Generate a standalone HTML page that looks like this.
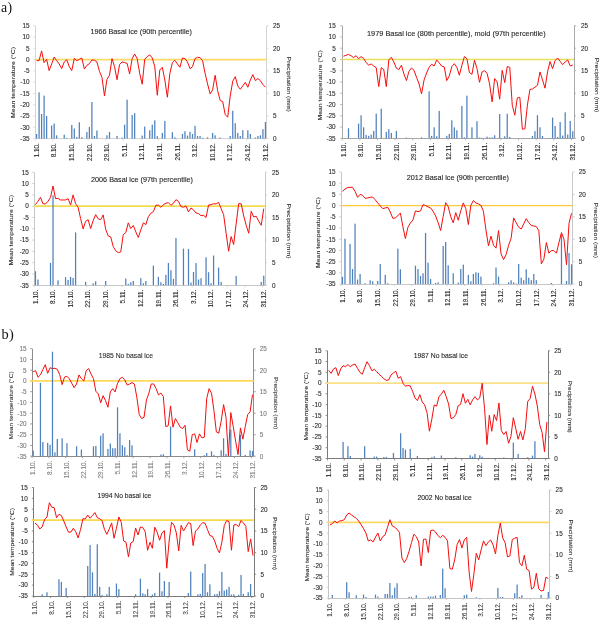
<!DOCTYPE html><html><head><meta charset="utf-8"><style>html,body{margin:0;padding:0;background:#fff;}svg{display:block;will-change:transform;filter:blur(0.3px);}</style></head><body>
<svg width="601" height="620" viewBox="0 0 601 620" font-family='"Liberation Sans", sans-serif'>
<rect width="601" height="620" fill="#fff"/>
<text x="1" y="11.6" font-family="'Liberation Serif', serif" font-size="13.8" letter-spacing="0.4" fill="#111">a)</text>
<text x="1.4" y="338.7" font-family="'Liberation Serif', serif" font-size="14.4" letter-spacing="0.3" fill="#111">b)</text>
<line x1="35.5" y1="25.7" x2="35.5" y2="138.5" stroke="#d4d4d4" stroke-width="1"/>
<line x1="266.5" y1="25.7" x2="266.5" y2="138.5" stroke="#d4d4d4" stroke-width="1"/>
<line x1="35.5" y1="138.5" x2="266.5" y2="138.5" stroke="#d4d4d4" stroke-width="1"/>
<line x1="33.3" y1="25.7" x2="35.3" y2="25.7" stroke="#d4d4d4" stroke-width="0.8"/>
<text x="29.5" y="28" text-anchor="end" font-size="6.4" fill="#2a2a2a" stroke="#2a2a2a" stroke-width="0.1">15</text>
<line x1="33.3" y1="36.99" x2="35.3" y2="36.99" stroke="#d4d4d4" stroke-width="0.8"/>
<text x="29.5" y="39.29" text-anchor="end" font-size="6.4" fill="#2a2a2a" stroke="#2a2a2a" stroke-width="0.1">10</text>
<line x1="33.3" y1="48.28" x2="35.3" y2="48.28" stroke="#d4d4d4" stroke-width="0.8"/>
<text x="29.5" y="50.58" text-anchor="end" font-size="6.4" fill="#2a2a2a" stroke="#2a2a2a" stroke-width="0.1">5</text>
<line x1="33.3" y1="59.57" x2="35.3" y2="59.57" stroke="#d4d4d4" stroke-width="0.8"/>
<text x="29.5" y="61.87" text-anchor="end" font-size="6.4" fill="#2a2a2a" stroke="#2a2a2a" stroke-width="0.1">0</text>
<line x1="33.3" y1="70.86" x2="35.3" y2="70.86" stroke="#d4d4d4" stroke-width="0.8"/>
<text x="29.5" y="73.16" text-anchor="end" font-size="6.4" fill="#2a2a2a" stroke="#2a2a2a" stroke-width="0.1">-5</text>
<line x1="33.3" y1="82.15" x2="35.3" y2="82.15" stroke="#d4d4d4" stroke-width="0.8"/>
<text x="29.5" y="84.45" text-anchor="end" font-size="6.4" fill="#2a2a2a" stroke="#2a2a2a" stroke-width="0.1">-10</text>
<line x1="33.3" y1="93.44" x2="35.3" y2="93.44" stroke="#d4d4d4" stroke-width="0.8"/>
<text x="29.5" y="95.74" text-anchor="end" font-size="6.4" fill="#2a2a2a" stroke="#2a2a2a" stroke-width="0.1">-15</text>
<line x1="33.3" y1="104.73" x2="35.3" y2="104.73" stroke="#d4d4d4" stroke-width="0.8"/>
<text x="29.5" y="107.03" text-anchor="end" font-size="6.4" fill="#2a2a2a" stroke="#2a2a2a" stroke-width="0.1">-20</text>
<line x1="33.3" y1="116.02" x2="35.3" y2="116.02" stroke="#d4d4d4" stroke-width="0.8"/>
<text x="29.5" y="118.32" text-anchor="end" font-size="6.4" fill="#2a2a2a" stroke="#2a2a2a" stroke-width="0.1">-25</text>
<line x1="33.3" y1="127.31" x2="35.3" y2="127.31" stroke="#d4d4d4" stroke-width="0.8"/>
<text x="29.5" y="129.61" text-anchor="end" font-size="6.4" fill="#2a2a2a" stroke="#2a2a2a" stroke-width="0.1">-30</text>
<line x1="33.3" y1="138.6" x2="35.3" y2="138.6" stroke="#d4d4d4" stroke-width="0.8"/>
<text x="29.5" y="140.9" text-anchor="end" font-size="6.4" fill="#2a2a2a" stroke="#2a2a2a" stroke-width="0.1">-35</text>
<line x1="266.7" y1="25.7" x2="268.7" y2="25.7" stroke="#d4d4d4" stroke-width="0.8"/>
<text x="273" y="28" font-size="6.4" fill="#2a2a2a" stroke="#2a2a2a" stroke-width="0.1">25</text>
<line x1="266.7" y1="48.28" x2="268.7" y2="48.28" stroke="#d4d4d4" stroke-width="0.8"/>
<text x="273" y="50.58" font-size="6.4" fill="#2a2a2a" stroke="#2a2a2a" stroke-width="0.1">20</text>
<line x1="266.7" y1="70.86" x2="268.7" y2="70.86" stroke="#d4d4d4" stroke-width="0.8"/>
<text x="273" y="73.16" font-size="6.4" fill="#2a2a2a" stroke="#2a2a2a" stroke-width="0.1">15</text>
<line x1="266.7" y1="93.44" x2="268.7" y2="93.44" stroke="#d4d4d4" stroke-width="0.8"/>
<text x="273" y="95.74" font-size="6.4" fill="#2a2a2a" stroke="#2a2a2a" stroke-width="0.1">10</text>
<line x1="266.7" y1="116.02" x2="268.7" y2="116.02" stroke="#d4d4d4" stroke-width="0.8"/>
<text x="273" y="118.32" font-size="6.4" fill="#2a2a2a" stroke="#2a2a2a" stroke-width="0.1">5</text>
<line x1="266.7" y1="138.6" x2="268.7" y2="138.6" stroke="#d4d4d4" stroke-width="0.8"/>
<text x="273" y="140.9" font-size="6.4" fill="#2a2a2a" stroke="#2a2a2a" stroke-width="0.1">0</text>
<line x1="35.3" y1="138.6" x2="35.3" y2="140.6" stroke="#d4d4d4" stroke-width="0.8"/>
<text transform="translate(38.76,143.1) rotate(-90)" text-anchor="end" font-size="6.4" fill="#2a2a2a" stroke="#2a2a2a" stroke-width="0.1">1.10.</text>
<line x1="52.91" y1="138.6" x2="52.91" y2="140.6" stroke="#d4d4d4" stroke-width="0.8"/>
<text transform="translate(56.36,143.1) rotate(-90)" text-anchor="end" font-size="6.4" fill="#2a2a2a" stroke="#2a2a2a" stroke-width="0.1">8.10.</text>
<line x1="70.51" y1="138.6" x2="70.51" y2="140.6" stroke="#d4d4d4" stroke-width="0.8"/>
<text transform="translate(73.97,143.1) rotate(-90)" text-anchor="end" font-size="6.4" fill="#2a2a2a" stroke="#2a2a2a" stroke-width="0.1">15.10.</text>
<line x1="88.12" y1="138.6" x2="88.12" y2="140.6" stroke="#d4d4d4" stroke-width="0.8"/>
<text transform="translate(91.58,143.1) rotate(-90)" text-anchor="end" font-size="6.4" fill="#2a2a2a" stroke="#2a2a2a" stroke-width="0.1">22.10.</text>
<line x1="105.73" y1="138.6" x2="105.73" y2="140.6" stroke="#d4d4d4" stroke-width="0.8"/>
<text transform="translate(109.18,143.1) rotate(-90)" text-anchor="end" font-size="6.4" fill="#2a2a2a" stroke="#2a2a2a" stroke-width="0.1">29.10.</text>
<line x1="123.33" y1="138.6" x2="123.33" y2="140.6" stroke="#d4d4d4" stroke-width="0.8"/>
<text transform="translate(126.79,143.1) rotate(-90)" text-anchor="end" font-size="6.4" fill="#2a2a2a" stroke="#2a2a2a" stroke-width="0.1">5.11.</text>
<line x1="140.94" y1="138.6" x2="140.94" y2="140.6" stroke="#d4d4d4" stroke-width="0.8"/>
<text transform="translate(144.4,143.1) rotate(-90)" text-anchor="end" font-size="6.4" fill="#2a2a2a" stroke="#2a2a2a" stroke-width="0.1">12.11.</text>
<line x1="158.55" y1="138.6" x2="158.55" y2="140.6" stroke="#d4d4d4" stroke-width="0.8"/>
<text transform="translate(162,143.1) rotate(-90)" text-anchor="end" font-size="6.4" fill="#2a2a2a" stroke="#2a2a2a" stroke-width="0.1">19.11.</text>
<line x1="176.15" y1="138.6" x2="176.15" y2="140.6" stroke="#d4d4d4" stroke-width="0.8"/>
<text transform="translate(179.61,143.1) rotate(-90)" text-anchor="end" font-size="6.4" fill="#2a2a2a" stroke="#2a2a2a" stroke-width="0.1">26.11.</text>
<line x1="193.76" y1="138.6" x2="193.76" y2="140.6" stroke="#d4d4d4" stroke-width="0.8"/>
<text transform="translate(197.22,143.1) rotate(-90)" text-anchor="end" font-size="6.4" fill="#2a2a2a" stroke="#2a2a2a" stroke-width="0.1">3.12.</text>
<line x1="211.37" y1="138.6" x2="211.37" y2="140.6" stroke="#d4d4d4" stroke-width="0.8"/>
<text transform="translate(214.82,143.1) rotate(-90)" text-anchor="end" font-size="6.4" fill="#2a2a2a" stroke="#2a2a2a" stroke-width="0.1">10.12.</text>
<line x1="228.97" y1="138.6" x2="228.97" y2="140.6" stroke="#d4d4d4" stroke-width="0.8"/>
<text transform="translate(232.43,143.1) rotate(-90)" text-anchor="end" font-size="6.4" fill="#2a2a2a" stroke="#2a2a2a" stroke-width="0.1">17.12.</text>
<line x1="246.58" y1="138.6" x2="246.58" y2="140.6" stroke="#d4d4d4" stroke-width="0.8"/>
<text transform="translate(250.04,143.1) rotate(-90)" text-anchor="end" font-size="6.4" fill="#2a2a2a" stroke="#2a2a2a" stroke-width="0.1">24.12.</text>
<line x1="264.18" y1="138.6" x2="264.18" y2="140.6" stroke="#d4d4d4" stroke-width="0.8"/>
<text transform="translate(267.64,143.1) rotate(-90)" text-anchor="end" font-size="6.4" fill="#2a2a2a" stroke="#2a2a2a" stroke-width="0.1">31.12.</text>
<line x1="35.3" y1="59.57" x2="266.7" y2="59.57" stroke="#ffd966" stroke-width="1.7"/>
<rect x="35.93" y="133.99" width="1.25" height="4.61" fill="#4f81bd"/>
<rect x="38.45" y="92.32" width="1.25" height="46.28" fill="#4f81bd"/>
<rect x="40.96" y="114.02" width="1.25" height="24.58" fill="#4f81bd"/>
<rect x="43.48" y="95.65" width="1.25" height="42.95" fill="#4f81bd"/>
<rect x="45.99" y="116.01" width="1.25" height="22.59" fill="#4f81bd"/>
<rect x="51.02" y="125.6" width="1.25" height="13" fill="#4f81bd"/>
<rect x="53.54" y="123.6" width="1.25" height="15" fill="#4f81bd"/>
<rect x="56.05" y="135.32" width="1.25" height="3.28" fill="#4f81bd"/>
<rect x="63.6" y="134.65" width="1.25" height="3.95" fill="#4f81bd"/>
<rect x="66.12" y="137.85" width="1.25" height="0.75" fill="#4f81bd"/>
<rect x="71.15" y="124.93" width="1.25" height="13.67" fill="#4f81bd"/>
<rect x="73.66" y="128.53" width="1.25" height="10.07" fill="#4f81bd"/>
<rect x="76.18" y="136.91" width="1.25" height="1.69" fill="#4f81bd"/>
<rect x="78.69" y="122.27" width="1.25" height="16.33" fill="#4f81bd"/>
<rect x="81.21" y="137.18" width="1.25" height="1.42" fill="#4f81bd"/>
<rect x="86.24" y="131.99" width="1.25" height="6.61" fill="#4f81bd"/>
<rect x="88.75" y="126.93" width="1.25" height="11.67" fill="#4f81bd"/>
<rect x="91.27" y="102.04" width="1.25" height="36.56" fill="#4f81bd"/>
<rect x="93.78" y="135.98" width="1.25" height="2.62" fill="#4f81bd"/>
<rect x="96.3" y="130.52" width="1.25" height="8.08" fill="#4f81bd"/>
<rect x="106.36" y="135.32" width="1.25" height="3.28" fill="#4f81bd"/>
<rect x="108.87" y="131.99" width="1.25" height="6.61" fill="#4f81bd"/>
<rect x="116.42" y="135.98" width="1.25" height="2.62" fill="#4f81bd"/>
<rect x="121.45" y="137.58" width="1.25" height="1.02" fill="#4f81bd"/>
<rect x="123.97" y="124.67" width="1.25" height="13.93" fill="#4f81bd"/>
<rect x="126.48" y="99.64" width="1.25" height="38.96" fill="#4f81bd"/>
<rect x="131.51" y="114.95" width="1.25" height="23.65" fill="#4f81bd"/>
<rect x="134.03" y="113.22" width="1.25" height="25.38" fill="#4f81bd"/>
<rect x="141.57" y="135.58" width="1.25" height="3.02" fill="#4f81bd"/>
<rect x="144.09" y="126.53" width="1.25" height="12.07" fill="#4f81bd"/>
<rect x="149.12" y="130.26" width="1.25" height="8.34" fill="#4f81bd"/>
<rect x="151.63" y="124.67" width="1.25" height="13.93" fill="#4f81bd"/>
<rect x="154.15" y="120.27" width="1.25" height="18.33" fill="#4f81bd"/>
<rect x="156.66" y="136.25" width="1.25" height="2.35" fill="#4f81bd"/>
<rect x="161.69" y="132.92" width="1.25" height="5.68" fill="#4f81bd"/>
<rect x="164.21" y="120.94" width="1.25" height="17.66" fill="#4f81bd"/>
<rect x="171.75" y="132.25" width="1.25" height="6.35" fill="#4f81bd"/>
<rect x="174.27" y="137.31" width="1.25" height="1.29" fill="#4f81bd"/>
<rect x="181.82" y="133.99" width="1.25" height="4.61" fill="#4f81bd"/>
<rect x="184.33" y="131.19" width="1.25" height="7.41" fill="#4f81bd"/>
<rect x="186.85" y="135.58" width="1.25" height="3.02" fill="#4f81bd"/>
<rect x="189.36" y="131.86" width="1.25" height="6.74" fill="#4f81bd"/>
<rect x="191.88" y="133.99" width="1.25" height="4.61" fill="#4f81bd"/>
<rect x="194.39" y="125.87" width="1.25" height="12.73" fill="#4f81bd"/>
<rect x="196.91" y="135.98" width="1.25" height="2.62" fill="#4f81bd"/>
<rect x="199.42" y="135.98" width="1.25" height="2.62" fill="#4f81bd"/>
<rect x="201.94" y="137.85" width="1.25" height="0.75" fill="#4f81bd"/>
<rect x="206.97" y="137.31" width="1.25" height="1.29" fill="#4f81bd"/>
<rect x="212" y="132.92" width="1.25" height="5.68" fill="#4f81bd"/>
<rect x="214.51" y="135.32" width="1.25" height="3.28" fill="#4f81bd"/>
<rect x="219.54" y="137.58" width="1.25" height="1.02" fill="#4f81bd"/>
<rect x="229.6" y="135.98" width="1.25" height="2.62" fill="#4f81bd"/>
<rect x="232.12" y="110.69" width="1.25" height="27.91" fill="#4f81bd"/>
<rect x="234.63" y="123.2" width="1.25" height="15.4" fill="#4f81bd"/>
<rect x="237.15" y="132.92" width="1.25" height="5.68" fill="#4f81bd"/>
<rect x="239.67" y="135.98" width="1.25" height="2.62" fill="#4f81bd"/>
<rect x="242.18" y="130.26" width="1.25" height="8.34" fill="#4f81bd"/>
<rect x="247.21" y="130.26" width="1.25" height="8.34" fill="#4f81bd"/>
<rect x="249.73" y="133.99" width="1.25" height="4.61" fill="#4f81bd"/>
<rect x="254.76" y="137.58" width="1.25" height="1.02" fill="#4f81bd"/>
<rect x="257.27" y="135.98" width="1.25" height="2.62" fill="#4f81bd"/>
<rect x="259.79" y="135.32" width="1.25" height="3.28" fill="#4f81bd"/>
<rect x="262.3" y="129.19" width="1.25" height="9.41" fill="#4f81bd"/>
<rect x="264.82" y="122" width="1.25" height="16.6" fill="#4f81bd"/>
<polyline points="36.56,60.63 39.07,60.63 41.59,50.92 44.1,62.63 46.62,59.3 49.13,70.62 51.65,63.96 54.16,57.04 56.68,60.63 59.19,63.96 61.71,68.62 64.22,61.96 66.74,59.7 69.26,66.62 71.77,70.62 74.29,58.37 76.8,60.63 79.32,59.3 81.83,57.97 84.35,69.02 86.86,65.29 89.38,63.69 91.89,59.97 94.41,60.23 96.92,61.96 99.44,71.28 101.95,77.27 104.47,95.91 106.98,79.27 109.5,75.27 112.01,58.64 114.53,66.62 117.04,79.67 119.56,64.63 122.07,61.96 124.59,62.63 127.11,63.29 129.62,73.94 132.14,58.64 134.65,53.98 137.17,58.64 139.68,73.28 142.2,84.19 144.71,59.3 147.23,56.64 149.74,54.91 152.26,57.97 154.77,66.62 157.29,95.24 159.8,69.95 162.32,67.29 164.83,79.93 167.35,97.24 169.86,73.28 172.38,62.63 174.89,60.23 177.41,63.96 179.92,67.29 182.44,57.97 184.96,58.64 187.47,61.96 189.99,68.62 192.5,66.62 195.02,58.64 197.53,57.3 200.05,57.57 202.56,60.63 205.08,73.28 207.59,83.93 210.11,93.91 212.62,89.92 215.14,75.27 217.65,90.58 220.17,100.57 222.68,101.5 225.2,114.54 227.71,117.2 230.23,95.91 232.74,81.26 235.26,76.61 237.77,85.92 240.29,89.25 242.81,85.92 245.32,82.33 247.84,87.25 250.35,79.93 252.87,74.61 255.38,80.6 257.9,78.6 260.41,80.6 262.93,84.59 265.44,87.25" fill="none" stroke="#f50d0d" stroke-width="1.0" stroke-linejoin="round"/>
<text x="90.4" y="33.7" font-size="7.7" fill="#222" textLength="101.6" lengthAdjust="spacingAndGlyphs" stroke="#222" stroke-width="0.1">1966 Basal ice (90th percentile)</text>
<text transform="translate(15,118) rotate(-90)" font-size="6.1" fill="#2a2a2a" textLength="71.2" lengthAdjust="spacingAndGlyphs" stroke="#2a2a2a" stroke-width="0.1">Mean temperature (°C)</text>
<text transform="translate(286.6,56.4) rotate(90)" font-size="6.1" fill="#2a2a2a" textLength="55.5" lengthAdjust="spacingAndGlyphs" stroke="#2a2a2a" stroke-width="0.1">Precipitation (mm)</text>
<line x1="342.5" y1="25.7" x2="342.5" y2="138.5" stroke="#a8a8a8" stroke-width="1"/>
<line x1="574.5" y1="25.7" x2="574.5" y2="138.5" stroke="#a8a8a8" stroke-width="1"/>
<line x1="342.5" y1="138.5" x2="574.5" y2="138.5" stroke="#a8a8a8" stroke-width="1"/>
<line x1="340.2" y1="25.7" x2="342.2" y2="25.7" stroke="#a8a8a8" stroke-width="0.8"/>
<text x="335.7" y="28" text-anchor="end" font-size="6.4" fill="#2a2a2a" stroke="#2a2a2a" stroke-width="0.1">15</text>
<line x1="340.2" y1="36.96" x2="342.2" y2="36.96" stroke="#a8a8a8" stroke-width="0.8"/>
<text x="335.7" y="39.26" text-anchor="end" font-size="6.4" fill="#2a2a2a" stroke="#2a2a2a" stroke-width="0.1">10</text>
<line x1="340.2" y1="48.22" x2="342.2" y2="48.22" stroke="#a8a8a8" stroke-width="0.8"/>
<text x="335.7" y="50.52" text-anchor="end" font-size="6.4" fill="#2a2a2a" stroke="#2a2a2a" stroke-width="0.1">5</text>
<line x1="340.2" y1="59.48" x2="342.2" y2="59.48" stroke="#a8a8a8" stroke-width="0.8"/>
<text x="335.7" y="61.78" text-anchor="end" font-size="6.4" fill="#2a2a2a" stroke="#2a2a2a" stroke-width="0.1">0</text>
<line x1="340.2" y1="70.74" x2="342.2" y2="70.74" stroke="#a8a8a8" stroke-width="0.8"/>
<text x="335.7" y="73.04" text-anchor="end" font-size="6.4" fill="#2a2a2a" stroke="#2a2a2a" stroke-width="0.1">-5</text>
<line x1="340.2" y1="82" x2="342.2" y2="82" stroke="#a8a8a8" stroke-width="0.8"/>
<text x="335.7" y="84.3" text-anchor="end" font-size="6.4" fill="#2a2a2a" stroke="#2a2a2a" stroke-width="0.1">-10</text>
<line x1="340.2" y1="93.26" x2="342.2" y2="93.26" stroke="#a8a8a8" stroke-width="0.8"/>
<text x="335.7" y="95.56" text-anchor="end" font-size="6.4" fill="#2a2a2a" stroke="#2a2a2a" stroke-width="0.1">-15</text>
<line x1="340.2" y1="104.52" x2="342.2" y2="104.52" stroke="#a8a8a8" stroke-width="0.8"/>
<text x="335.7" y="106.82" text-anchor="end" font-size="6.4" fill="#2a2a2a" stroke="#2a2a2a" stroke-width="0.1">-20</text>
<line x1="340.2" y1="115.78" x2="342.2" y2="115.78" stroke="#a8a8a8" stroke-width="0.8"/>
<text x="335.7" y="118.08" text-anchor="end" font-size="6.4" fill="#2a2a2a" stroke="#2a2a2a" stroke-width="0.1">-25</text>
<line x1="340.2" y1="127.04" x2="342.2" y2="127.04" stroke="#a8a8a8" stroke-width="0.8"/>
<text x="335.7" y="129.34" text-anchor="end" font-size="6.4" fill="#2a2a2a" stroke="#2a2a2a" stroke-width="0.1">-30</text>
<line x1="340.2" y1="138.3" x2="342.2" y2="138.3" stroke="#a8a8a8" stroke-width="0.8"/>
<text x="335.7" y="140.6" text-anchor="end" font-size="6.4" fill="#2a2a2a" stroke="#2a2a2a" stroke-width="0.1">-35</text>
<line x1="574" y1="25.7" x2="576" y2="25.7" stroke="#a8a8a8" stroke-width="0.8"/>
<text x="581" y="28" font-size="6.4" fill="#2a2a2a" stroke="#2a2a2a" stroke-width="0.1">25</text>
<line x1="574" y1="48.22" x2="576" y2="48.22" stroke="#a8a8a8" stroke-width="0.8"/>
<text x="581" y="50.52" font-size="6.4" fill="#2a2a2a" stroke="#2a2a2a" stroke-width="0.1">20</text>
<line x1="574" y1="70.74" x2="576" y2="70.74" stroke="#a8a8a8" stroke-width="0.8"/>
<text x="581" y="73.04" font-size="6.4" fill="#2a2a2a" stroke="#2a2a2a" stroke-width="0.1">15</text>
<line x1="574" y1="93.26" x2="576" y2="93.26" stroke="#a8a8a8" stroke-width="0.8"/>
<text x="581" y="95.56" font-size="6.4" fill="#2a2a2a" stroke="#2a2a2a" stroke-width="0.1">10</text>
<line x1="574" y1="115.78" x2="576" y2="115.78" stroke="#a8a8a8" stroke-width="0.8"/>
<text x="581" y="118.08" font-size="6.4" fill="#2a2a2a" stroke="#2a2a2a" stroke-width="0.1">5</text>
<line x1="574" y1="138.3" x2="576" y2="138.3" stroke="#a8a8a8" stroke-width="0.8"/>
<text x="581" y="140.6" font-size="6.4" fill="#2a2a2a" stroke="#2a2a2a" stroke-width="0.1">0</text>
<line x1="342.2" y1="138.3" x2="342.2" y2="140.3" stroke="#a8a8a8" stroke-width="0.8"/>
<text transform="translate(345.66,142.8) rotate(-90)" text-anchor="end" font-size="6.4" fill="#2a2a2a" stroke="#2a2a2a" stroke-width="0.1">1.10.</text>
<line x1="359.84" y1="138.3" x2="359.84" y2="140.3" stroke="#a8a8a8" stroke-width="0.8"/>
<text transform="translate(363.3,142.8) rotate(-90)" text-anchor="end" font-size="6.4" fill="#2a2a2a" stroke="#2a2a2a" stroke-width="0.1">8.10.</text>
<line x1="377.47" y1="138.3" x2="377.47" y2="140.3" stroke="#a8a8a8" stroke-width="0.8"/>
<text transform="translate(380.93,142.8) rotate(-90)" text-anchor="end" font-size="6.4" fill="#2a2a2a" stroke="#2a2a2a" stroke-width="0.1">15.10.</text>
<line x1="395.11" y1="138.3" x2="395.11" y2="140.3" stroke="#a8a8a8" stroke-width="0.8"/>
<text transform="translate(398.57,142.8) rotate(-90)" text-anchor="end" font-size="6.4" fill="#2a2a2a" stroke="#2a2a2a" stroke-width="0.1">22.10.</text>
<line x1="412.75" y1="138.3" x2="412.75" y2="140.3" stroke="#a8a8a8" stroke-width="0.8"/>
<text transform="translate(416.21,142.8) rotate(-90)" text-anchor="end" font-size="6.4" fill="#2a2a2a" stroke="#2a2a2a" stroke-width="0.1">29.10.</text>
<line x1="430.38" y1="138.3" x2="430.38" y2="140.3" stroke="#a8a8a8" stroke-width="0.8"/>
<text transform="translate(433.84,142.8) rotate(-90)" text-anchor="end" font-size="6.4" fill="#2a2a2a" stroke="#2a2a2a" stroke-width="0.1">5.11.</text>
<line x1="448.02" y1="138.3" x2="448.02" y2="140.3" stroke="#a8a8a8" stroke-width="0.8"/>
<text transform="translate(451.48,142.8) rotate(-90)" text-anchor="end" font-size="6.4" fill="#2a2a2a" stroke="#2a2a2a" stroke-width="0.1">12.11.</text>
<line x1="465.66" y1="138.3" x2="465.66" y2="140.3" stroke="#a8a8a8" stroke-width="0.8"/>
<text transform="translate(469.12,142.8) rotate(-90)" text-anchor="end" font-size="6.4" fill="#2a2a2a" stroke="#2a2a2a" stroke-width="0.1">19.11.</text>
<line x1="483.3" y1="138.3" x2="483.3" y2="140.3" stroke="#a8a8a8" stroke-width="0.8"/>
<text transform="translate(486.76,142.8) rotate(-90)" text-anchor="end" font-size="6.4" fill="#2a2a2a" stroke="#2a2a2a" stroke-width="0.1">26.11.</text>
<line x1="500.93" y1="138.3" x2="500.93" y2="140.3" stroke="#a8a8a8" stroke-width="0.8"/>
<text transform="translate(504.39,142.8) rotate(-90)" text-anchor="end" font-size="6.4" fill="#2a2a2a" stroke="#2a2a2a" stroke-width="0.1">3.12.</text>
<line x1="518.57" y1="138.3" x2="518.57" y2="140.3" stroke="#a8a8a8" stroke-width="0.8"/>
<text transform="translate(522.03,142.8) rotate(-90)" text-anchor="end" font-size="6.4" fill="#2a2a2a" stroke="#2a2a2a" stroke-width="0.1">10.12.</text>
<line x1="536.21" y1="138.3" x2="536.21" y2="140.3" stroke="#a8a8a8" stroke-width="0.8"/>
<text transform="translate(539.67,142.8) rotate(-90)" text-anchor="end" font-size="6.4" fill="#2a2a2a" stroke="#2a2a2a" stroke-width="0.1">17.12.</text>
<line x1="553.84" y1="138.3" x2="553.84" y2="140.3" stroke="#a8a8a8" stroke-width="0.8"/>
<text transform="translate(557.3,142.8) rotate(-90)" text-anchor="end" font-size="6.4" fill="#2a2a2a" stroke="#2a2a2a" stroke-width="0.1">24.12.</text>
<line x1="571.48" y1="138.3" x2="571.48" y2="140.3" stroke="#a8a8a8" stroke-width="0.8"/>
<text transform="translate(574.94,142.8) rotate(-90)" text-anchor="end" font-size="6.4" fill="#2a2a2a" stroke="#2a2a2a" stroke-width="0.1">31.12.</text>
<line x1="342.2" y1="59.48" x2="574" y2="59.48" stroke="#e8df5a" stroke-width="1.7"/>
<rect x="347.87" y="128.26" width="1.25" height="10.04" fill="#4f81bd"/>
<rect x="357.95" y="123.6" width="1.25" height="14.7" fill="#4f81bd"/>
<rect x="360.47" y="115.35" width="1.25" height="22.95" fill="#4f81bd"/>
<rect x="362.99" y="127.33" width="1.25" height="10.97" fill="#4f81bd"/>
<rect x="365.51" y="134.92" width="1.25" height="3.38" fill="#4f81bd"/>
<rect x="368.03" y="135.85" width="1.25" height="2.45" fill="#4f81bd"/>
<rect x="370.55" y="134.65" width="1.25" height="3.65" fill="#4f81bd"/>
<rect x="373.07" y="130.92" width="1.25" height="7.38" fill="#4f81bd"/>
<rect x="375.59" y="113.62" width="1.25" height="24.68" fill="#4f81bd"/>
<rect x="380.63" y="108.69" width="1.25" height="29.61" fill="#4f81bd"/>
<rect x="385.67" y="131.86" width="1.25" height="6.44" fill="#4f81bd"/>
<rect x="388.19" y="129.19" width="1.25" height="9.11" fill="#4f81bd"/>
<rect x="390.71" y="132.92" width="1.25" height="5.38" fill="#4f81bd"/>
<rect x="395.75" y="130.92" width="1.25" height="7.38" fill="#4f81bd"/>
<rect x="405.82" y="137.58" width="1.25" height="0.72" fill="#4f81bd"/>
<rect x="420.94" y="137.31" width="1.25" height="0.99" fill="#4f81bd"/>
<rect x="428.5" y="91.39" width="1.25" height="46.91" fill="#4f81bd"/>
<rect x="431.02" y="135.85" width="1.25" height="2.45" fill="#4f81bd"/>
<rect x="433.54" y="127.33" width="1.25" height="10.97" fill="#4f81bd"/>
<rect x="436.06" y="136.25" width="1.25" height="2.05" fill="#4f81bd"/>
<rect x="438.58" y="110.96" width="1.25" height="27.34" fill="#4f81bd"/>
<rect x="446.14" y="135.85" width="1.25" height="2.45" fill="#4f81bd"/>
<rect x="448.66" y="133.99" width="1.25" height="4.31" fill="#4f81bd"/>
<rect x="451.18" y="120.27" width="1.25" height="18.03" fill="#4f81bd"/>
<rect x="453.7" y="127.33" width="1.25" height="10.97" fill="#4f81bd"/>
<rect x="456.22" y="130.26" width="1.25" height="8.04" fill="#4f81bd"/>
<rect x="461.25" y="105.9" width="1.25" height="32.4" fill="#4f81bd"/>
<rect x="463.77" y="137.31" width="1.25" height="0.99" fill="#4f81bd"/>
<rect x="466.29" y="95.65" width="1.25" height="42.65" fill="#4f81bd"/>
<rect x="471.33" y="127.33" width="1.25" height="10.97" fill="#4f81bd"/>
<rect x="476.37" y="121.21" width="1.25" height="17.09" fill="#4f81bd"/>
<rect x="478.89" y="137.58" width="1.25" height="0.72" fill="#4f81bd"/>
<rect x="481.41" y="137.85" width="1.25" height="0.45" fill="#4f81bd"/>
<rect x="486.45" y="136.65" width="1.25" height="1.65" fill="#4f81bd"/>
<rect x="488.97" y="137.58" width="1.25" height="0.72" fill="#4f81bd"/>
<rect x="491.49" y="137.31" width="1.25" height="0.99" fill="#4f81bd"/>
<rect x="494.01" y="135.32" width="1.25" height="2.98" fill="#4f81bd"/>
<rect x="499.05" y="114.02" width="1.25" height="24.28" fill="#4f81bd"/>
<rect x="504.09" y="136.25" width="1.25" height="2.05" fill="#4f81bd"/>
<rect x="506.61" y="113.75" width="1.25" height="24.55" fill="#4f81bd"/>
<rect x="509.13" y="136.91" width="1.25" height="1.39" fill="#4f81bd"/>
<rect x="531.8" y="135.98" width="1.25" height="2.32" fill="#4f81bd"/>
<rect x="534.32" y="131.19" width="1.25" height="7.11" fill="#4f81bd"/>
<rect x="536.84" y="115.22" width="1.25" height="23.08" fill="#4f81bd"/>
<rect x="539.36" y="127.33" width="1.25" height="10.97" fill="#4f81bd"/>
<rect x="541.88" y="135.98" width="1.25" height="2.32" fill="#4f81bd"/>
<rect x="549.44" y="137.85" width="1.25" height="0.45" fill="#4f81bd"/>
<rect x="551.96" y="117.61" width="1.25" height="20.69" fill="#4f81bd"/>
<rect x="554.48" y="126" width="1.25" height="12.3" fill="#4f81bd"/>
<rect x="557" y="136.91" width="1.25" height="1.39" fill="#4f81bd"/>
<rect x="559.52" y="122" width="1.25" height="16.3" fill="#4f81bd"/>
<rect x="562.04" y="135.58" width="1.25" height="2.72" fill="#4f81bd"/>
<rect x="564.56" y="112.29" width="1.25" height="26.01" fill="#4f81bd"/>
<rect x="567.08" y="134.65" width="1.25" height="3.65" fill="#4f81bd"/>
<rect x="569.6" y="120.94" width="1.25" height="17.36" fill="#4f81bd"/>
<rect x="572.12" y="131.19" width="1.25" height="7.11" fill="#4f81bd"/>
<polyline points="343.46,56.24 345.98,55.31 348.5,54.38 351.02,55.71 353.54,57.57 356.06,55.71 358.58,58.64 361.1,56.64 363.62,58.37 366.14,62.36 368.66,65.29 371.18,63.96 373.69,65.96 376.21,67.69 378.73,86.59 381.25,67.69 383.77,69.55 386.29,86.59 388.81,59.97 391.33,57.3 393.85,61.96 396.37,68.22 398.89,69.55 401.41,65.29 403.93,73.94 406.45,80.6 408.97,71.28 411.49,67.95 414.01,70.35 416.53,77.27 419.05,83.93 421.57,93.91 424.09,79.93 426.61,73.01 429.12,67.29 431.64,64.23 434.16,65.96 436.68,59.97 439.2,62.9 441.72,66.09 444.24,66.89 446.76,80.6 449.28,75.94 451.8,66.62 454.32,63.69 456.84,67.29 459.36,75.27 461.88,65.29 464.4,56.64 466.92,58.64 469.44,72.61 471.96,74.34 474.48,60.23 477,68.62 479.52,82.33 482.04,71.95 484.56,70.62 487.07,73.28 489.59,83.93 492.11,101.9 494.63,78.6 497.15,81.93 499.67,99.23 502.19,70.35 504.71,82.6 507.23,66.62 509.75,67.29 512.27,105.22 514.79,115.21 517.31,97.9 519.83,97.24 522.35,129.18 524.87,128.92 527.39,105.22 529.91,89.52 532.43,88.99 534.95,87.25 537.47,85.26 539.99,71.95 542.51,79.93 545.02,88.19 547.54,71.95 550.06,61.56 552.58,68.62 555.1,60.63 557.62,57.97 560.14,61.3 562.66,64.63 565.18,61.96 567.7,59.97 570.22,65.96 572.74,65.02" fill="none" stroke="#f50d0d" stroke-width="1.0" stroke-linejoin="round"/>
<text x="367" y="35.7" font-size="7.7" fill="#222" textLength="178.6" lengthAdjust="spacingAndGlyphs" stroke="#222" stroke-width="0.1">1979 Basal ice (80th percentile),  mold (97th percentile)</text>
<text transform="translate(322.3,120.5) rotate(-90)" font-size="6.1" fill="#2a2a2a" textLength="70.2" lengthAdjust="spacingAndGlyphs" stroke="#2a2a2a" stroke-width="0.1">Mean temperature (°C)</text>
<text transform="translate(594.9,57.8) rotate(90)" font-size="6.1" fill="#2a2a2a" textLength="54.5" lengthAdjust="spacingAndGlyphs" stroke="#2a2a2a" stroke-width="0.1">Precipitation (mm)</text>
<line x1="34.5" y1="172.3" x2="34.5" y2="285.5" stroke="#c8c8c8" stroke-width="1"/>
<line x1="265.5" y1="172.3" x2="265.5" y2="285.5" stroke="#c8c8c8" stroke-width="1"/>
<line x1="34.5" y1="285.5" x2="265.5" y2="285.5" stroke="#c8c8c8" stroke-width="1"/>
<line x1="32.2" y1="172.3" x2="34.2" y2="172.3" stroke="#c8c8c8" stroke-width="0.8"/>
<text x="28.9" y="174.6" text-anchor="end" font-size="6.4" fill="#2a2a2a" stroke="#2a2a2a" stroke-width="0.1">15</text>
<line x1="32.2" y1="183.59" x2="34.2" y2="183.59" stroke="#c8c8c8" stroke-width="0.8"/>
<text x="28.9" y="185.89" text-anchor="end" font-size="6.4" fill="#2a2a2a" stroke="#2a2a2a" stroke-width="0.1">10</text>
<line x1="32.2" y1="194.88" x2="34.2" y2="194.88" stroke="#c8c8c8" stroke-width="0.8"/>
<text x="28.9" y="197.18" text-anchor="end" font-size="6.4" fill="#2a2a2a" stroke="#2a2a2a" stroke-width="0.1">5</text>
<line x1="32.2" y1="206.17" x2="34.2" y2="206.17" stroke="#c8c8c8" stroke-width="0.8"/>
<text x="28.9" y="208.47" text-anchor="end" font-size="6.4" fill="#2a2a2a" stroke="#2a2a2a" stroke-width="0.1">0</text>
<line x1="32.2" y1="217.46" x2="34.2" y2="217.46" stroke="#c8c8c8" stroke-width="0.8"/>
<text x="28.9" y="219.76" text-anchor="end" font-size="6.4" fill="#2a2a2a" stroke="#2a2a2a" stroke-width="0.1">-5</text>
<line x1="32.2" y1="228.75" x2="34.2" y2="228.75" stroke="#c8c8c8" stroke-width="0.8"/>
<text x="28.9" y="231.05" text-anchor="end" font-size="6.4" fill="#2a2a2a" stroke="#2a2a2a" stroke-width="0.1">-10</text>
<line x1="32.2" y1="240.04" x2="34.2" y2="240.04" stroke="#c8c8c8" stroke-width="0.8"/>
<text x="28.9" y="242.34" text-anchor="end" font-size="6.4" fill="#2a2a2a" stroke="#2a2a2a" stroke-width="0.1">-15</text>
<line x1="32.2" y1="251.33" x2="34.2" y2="251.33" stroke="#c8c8c8" stroke-width="0.8"/>
<text x="28.9" y="253.63" text-anchor="end" font-size="6.4" fill="#2a2a2a" stroke="#2a2a2a" stroke-width="0.1">-20</text>
<line x1="32.2" y1="262.62" x2="34.2" y2="262.62" stroke="#c8c8c8" stroke-width="0.8"/>
<text x="28.9" y="264.92" text-anchor="end" font-size="6.4" fill="#2a2a2a" stroke="#2a2a2a" stroke-width="0.1">-25</text>
<line x1="32.2" y1="273.91" x2="34.2" y2="273.91" stroke="#c8c8c8" stroke-width="0.8"/>
<text x="28.9" y="276.21" text-anchor="end" font-size="6.4" fill="#2a2a2a" stroke="#2a2a2a" stroke-width="0.1">-30</text>
<line x1="32.2" y1="285.2" x2="34.2" y2="285.2" stroke="#c8c8c8" stroke-width="0.8"/>
<text x="28.9" y="287.5" text-anchor="end" font-size="6.4" fill="#2a2a2a" stroke="#2a2a2a" stroke-width="0.1">-35</text>
<line x1="265" y1="172.3" x2="267" y2="172.3" stroke="#c8c8c8" stroke-width="0.8"/>
<text x="272" y="174.6" font-size="6.4" fill="#2a2a2a" stroke="#2a2a2a" stroke-width="0.1">25</text>
<line x1="265" y1="194.88" x2="267" y2="194.88" stroke="#c8c8c8" stroke-width="0.8"/>
<text x="272" y="197.18" font-size="6.4" fill="#2a2a2a" stroke="#2a2a2a" stroke-width="0.1">20</text>
<line x1="265" y1="217.46" x2="267" y2="217.46" stroke="#c8c8c8" stroke-width="0.8"/>
<text x="272" y="219.76" font-size="6.4" fill="#2a2a2a" stroke="#2a2a2a" stroke-width="0.1">15</text>
<line x1="265" y1="240.04" x2="267" y2="240.04" stroke="#c8c8c8" stroke-width="0.8"/>
<text x="272" y="242.34" font-size="6.4" fill="#2a2a2a" stroke="#2a2a2a" stroke-width="0.1">10</text>
<line x1="265" y1="262.62" x2="267" y2="262.62" stroke="#c8c8c8" stroke-width="0.8"/>
<text x="272" y="264.92" font-size="6.4" fill="#2a2a2a" stroke="#2a2a2a" stroke-width="0.1">5</text>
<line x1="265" y1="285.2" x2="267" y2="285.2" stroke="#c8c8c8" stroke-width="0.8"/>
<text x="272" y="287.5" font-size="6.4" fill="#2a2a2a" stroke="#2a2a2a" stroke-width="0.1">0</text>
<line x1="34.2" y1="285.2" x2="34.2" y2="287.2" stroke="#c8c8c8" stroke-width="0.8"/>
<text transform="translate(37.65,289.7) rotate(-90)" text-anchor="end" font-size="6.4" fill="#2a2a2a" stroke="#2a2a2a" stroke-width="0.1">1.10.</text>
<line x1="51.76" y1="285.2" x2="51.76" y2="287.2" stroke="#c8c8c8" stroke-width="0.8"/>
<text transform="translate(55.22,289.7) rotate(-90)" text-anchor="end" font-size="6.4" fill="#2a2a2a" stroke="#2a2a2a" stroke-width="0.1">8.10.</text>
<line x1="69.32" y1="285.2" x2="69.32" y2="287.2" stroke="#c8c8c8" stroke-width="0.8"/>
<text transform="translate(72.78,289.7) rotate(-90)" text-anchor="end" font-size="6.4" fill="#2a2a2a" stroke="#2a2a2a" stroke-width="0.1">15.10.</text>
<line x1="86.88" y1="285.2" x2="86.88" y2="287.2" stroke="#c8c8c8" stroke-width="0.8"/>
<text transform="translate(90.34,289.7) rotate(-90)" text-anchor="end" font-size="6.4" fill="#2a2a2a" stroke="#2a2a2a" stroke-width="0.1">22.10.</text>
<line x1="104.44" y1="285.2" x2="104.44" y2="287.2" stroke="#c8c8c8" stroke-width="0.8"/>
<text transform="translate(107.9,289.7) rotate(-90)" text-anchor="end" font-size="6.4" fill="#2a2a2a" stroke="#2a2a2a" stroke-width="0.1">29.10.</text>
<line x1="122" y1="285.2" x2="122" y2="287.2" stroke="#c8c8c8" stroke-width="0.8"/>
<text transform="translate(125.46,289.7) rotate(-90)" text-anchor="end" font-size="6.4" fill="#2a2a2a" stroke="#2a2a2a" stroke-width="0.1">5.11.</text>
<line x1="139.57" y1="285.2" x2="139.57" y2="287.2" stroke="#c8c8c8" stroke-width="0.8"/>
<text transform="translate(143.02,289.7) rotate(-90)" text-anchor="end" font-size="6.4" fill="#2a2a2a" stroke="#2a2a2a" stroke-width="0.1">12.11.</text>
<line x1="157.13" y1="285.2" x2="157.13" y2="287.2" stroke="#c8c8c8" stroke-width="0.8"/>
<text transform="translate(160.58,289.7) rotate(-90)" text-anchor="end" font-size="6.4" fill="#2a2a2a" stroke="#2a2a2a" stroke-width="0.1">19.11.</text>
<line x1="174.69" y1="285.2" x2="174.69" y2="287.2" stroke="#c8c8c8" stroke-width="0.8"/>
<text transform="translate(178.14,289.7) rotate(-90)" text-anchor="end" font-size="6.4" fill="#2a2a2a" stroke="#2a2a2a" stroke-width="0.1">26.11.</text>
<line x1="192.25" y1="285.2" x2="192.25" y2="287.2" stroke="#c8c8c8" stroke-width="0.8"/>
<text transform="translate(195.7,289.7) rotate(-90)" text-anchor="end" font-size="6.4" fill="#2a2a2a" stroke="#2a2a2a" stroke-width="0.1">3.12.</text>
<line x1="209.81" y1="285.2" x2="209.81" y2="287.2" stroke="#c8c8c8" stroke-width="0.8"/>
<text transform="translate(213.26,289.7) rotate(-90)" text-anchor="end" font-size="6.4" fill="#2a2a2a" stroke="#2a2a2a" stroke-width="0.1">10.12.</text>
<line x1="227.37" y1="285.2" x2="227.37" y2="287.2" stroke="#c8c8c8" stroke-width="0.8"/>
<text transform="translate(230.82,289.7) rotate(-90)" text-anchor="end" font-size="6.4" fill="#2a2a2a" stroke="#2a2a2a" stroke-width="0.1">17.12.</text>
<line x1="244.93" y1="285.2" x2="244.93" y2="287.2" stroke="#c8c8c8" stroke-width="0.8"/>
<text transform="translate(248.38,289.7) rotate(-90)" text-anchor="end" font-size="6.4" fill="#2a2a2a" stroke="#2a2a2a" stroke-width="0.1">24.12.</text>
<line x1="262.49" y1="285.2" x2="262.49" y2="287.2" stroke="#c8c8c8" stroke-width="0.8"/>
<text transform="translate(265.95,289.7) rotate(-90)" text-anchor="end" font-size="6.4" fill="#2a2a2a" stroke="#2a2a2a" stroke-width="0.1">31.12.</text>
<line x1="34.2" y1="206.17" x2="265" y2="206.17" stroke="#f2db4c" stroke-width="1.7"/>
<rect x="52.39" y="195.31" width="1.25" height="89.89" fill="#4f81bd"/>
<rect x="34.83" y="271.26" width="1.25" height="13.94" fill="#4f81bd"/>
<rect x="37.34" y="279.52" width="1.25" height="5.68" fill="#4f81bd"/>
<rect x="49.88" y="263.01" width="1.25" height="22.19" fill="#4f81bd"/>
<rect x="57.41" y="280.32" width="1.25" height="4.88" fill="#4f81bd"/>
<rect x="64.93" y="277.25" width="1.25" height="7.95" fill="#4f81bd"/>
<rect x="67.44" y="279.92" width="1.25" height="5.28" fill="#4f81bd"/>
<rect x="69.95" y="276.86" width="1.25" height="8.34" fill="#4f81bd"/>
<rect x="72.46" y="277.92" width="1.25" height="7.28" fill="#4f81bd"/>
<rect x="74.97" y="232.4" width="1.25" height="52.8" fill="#4f81bd"/>
<rect x="85" y="281.91" width="1.25" height="3.29" fill="#4f81bd"/>
<rect x="92.53" y="283.24" width="1.25" height="1.96" fill="#4f81bd"/>
<rect x="95.04" y="281.25" width="1.25" height="3.95" fill="#4f81bd"/>
<rect x="105.07" y="280.98" width="1.25" height="4.22" fill="#4f81bd"/>
<rect x="125.14" y="278.59" width="1.25" height="6.61" fill="#4f81bd"/>
<rect x="127.65" y="283.91" width="1.25" height="1.29" fill="#4f81bd"/>
<rect x="130.16" y="282.31" width="1.25" height="2.89" fill="#4f81bd"/>
<rect x="132.67" y="280.98" width="1.25" height="4.22" fill="#4f81bd"/>
<rect x="140.19" y="278.19" width="1.25" height="7.01" fill="#4f81bd"/>
<rect x="142.7" y="283.24" width="1.25" height="1.96" fill="#4f81bd"/>
<rect x="145.21" y="280.98" width="1.25" height="4.22" fill="#4f81bd"/>
<rect x="152.74" y="265.67" width="1.25" height="19.53" fill="#4f81bd"/>
<rect x="157.76" y="276.86" width="1.25" height="8.34" fill="#4f81bd"/>
<rect x="160.26" y="282.18" width="1.25" height="3.02" fill="#4f81bd"/>
<rect x="162.77" y="283.91" width="1.25" height="1.29" fill="#4f81bd"/>
<rect x="165.28" y="274.86" width="1.25" height="10.34" fill="#4f81bd"/>
<rect x="167.79" y="263.01" width="1.25" height="22.19" fill="#4f81bd"/>
<rect x="170.3" y="270.2" width="1.25" height="15" fill="#4f81bd"/>
<rect x="172.81" y="278.85" width="1.25" height="6.35" fill="#4f81bd"/>
<rect x="175.32" y="237.99" width="1.25" height="47.21" fill="#4f81bd"/>
<rect x="182.84" y="248.64" width="1.25" height="36.56" fill="#4f81bd"/>
<rect x="187.86" y="248.9" width="1.25" height="36.3" fill="#4f81bd"/>
<rect x="190.37" y="282.58" width="1.25" height="2.62" fill="#4f81bd"/>
<rect x="192.88" y="271.93" width="1.25" height="13.27" fill="#4f81bd"/>
<rect x="195.39" y="263.01" width="1.25" height="22.19" fill="#4f81bd"/>
<rect x="197.89" y="279.52" width="1.25" height="5.68" fill="#4f81bd"/>
<rect x="200.4" y="278.19" width="1.25" height="7.01" fill="#4f81bd"/>
<rect x="205.42" y="257.29" width="1.25" height="27.91" fill="#4f81bd"/>
<rect x="207.93" y="272.2" width="1.25" height="13" fill="#4f81bd"/>
<rect x="210.44" y="283.24" width="1.25" height="1.96" fill="#4f81bd"/>
<rect x="212.95" y="255.56" width="1.25" height="29.64" fill="#4f81bd"/>
<rect x="217.96" y="267.54" width="1.25" height="17.66" fill="#4f81bd"/>
<rect x="220.47" y="281.91" width="1.25" height="3.29" fill="#4f81bd"/>
<rect x="235.52" y="275.92" width="1.25" height="9.28" fill="#4f81bd"/>
<rect x="260.61" y="281.91" width="1.25" height="3.29" fill="#4f81bd"/>
<rect x="263.12" y="275.66" width="1.25" height="9.54" fill="#4f81bd"/>
<polyline points="35.45,204.63 37.96,201.3 40.47,197.3 42.98,203.69 45.49,203.96 48,201.3 50.51,197.3 53.02,185.99 55.52,198.64 58.03,198.37 60.54,199.97 63.05,199.97 65.56,199.97 68.07,198.64 70.58,205.02 73.08,194.91 75.59,203.69 78.1,207.29 80.61,218.6 83.12,228.99 85.63,221.26 88.14,219.67 90.65,228.59 93.15,220.6 95.66,214.61 98.17,218.87 100.68,219.67 103.19,214.88 105.7,229.25 108.21,235.91 110.72,236.97 113.22,246.56 115.73,250.82 118.24,252.55 120.75,251.88 123.26,234.58 125.77,232.58 128.28,222.86 130.78,228.59 133.29,225.52 135.8,231.91 138.31,237.5 140.82,229.92 143.33,222.86 145.84,224.59 148.35,216.61 150.85,213.28 153.36,211.68 155.87,205.29 158.38,205.02 160.89,207.29 163.4,204.63 165.91,203.29 168.42,202.63 170.92,205.29 173.43,203.29 175.94,199.7 178.45,201.3 180.96,206.62 183.47,207.29 185.98,205.96 188.48,211.95 190.99,207.95 193.5,209.95 196.01,213.01 198.52,213.54 201.03,215.67 203.54,215.27 206.05,217.54 208.55,205.02 211.06,204.63 213.57,203.69 216.08,203.96 218.59,202.36 221.1,208.62 223.61,214.61 226.12,233.24 228.62,251.21 231.13,236.57 233.64,244.56 236.15,223.93 238.66,203.69 241.17,203.69 243.68,215.94 246.18,225.26 248.69,233.24 251.2,211.28 253.71,217 256.22,216.21 258.73,221.26 261.24,225.26 263.75,208.62" fill="none" stroke="#f50d0d" stroke-width="1.0" stroke-linejoin="round"/>
<text x="91" y="182.3" font-size="7.7" fill="#222" textLength="102" lengthAdjust="spacingAndGlyphs" stroke="#222" stroke-width="0.1">2006 Basal ice (97th percentile)</text>
<text transform="translate(13.1,265.6) rotate(-90)" font-size="6.1" fill="#2a2a2a" textLength="70.6" lengthAdjust="spacingAndGlyphs" stroke="#2a2a2a" stroke-width="0.1">Mean temperature (°C)</text>
<text transform="translate(286.8,203.5) rotate(90)" font-size="6.1" fill="#2a2a2a" textLength="54.9" lengthAdjust="spacingAndGlyphs" stroke="#2a2a2a" stroke-width="0.1">Precipitation (mm)</text>
<line x1="341.5" y1="172" x2="341.5" y2="284.5" stroke="#c8c8c8" stroke-width="1"/>
<line x1="572.5" y1="172" x2="572.5" y2="284.5" stroke="#c8c8c8" stroke-width="1"/>
<line x1="341.5" y1="284.5" x2="572.5" y2="284.5" stroke="#c8c8c8" stroke-width="1"/>
<line x1="339.2" y1="172" x2="341.2" y2="172" stroke="#c8c8c8" stroke-width="0.8"/>
<text x="335.6" y="174.3" text-anchor="end" font-size="6.4" fill="#2a2a2a" stroke="#2a2a2a" stroke-width="0.1">15</text>
<line x1="339.2" y1="183.21" x2="341.2" y2="183.21" stroke="#c8c8c8" stroke-width="0.8"/>
<text x="335.6" y="185.51" text-anchor="end" font-size="6.4" fill="#2a2a2a" stroke="#2a2a2a" stroke-width="0.1">10</text>
<line x1="339.2" y1="194.42" x2="341.2" y2="194.42" stroke="#c8c8c8" stroke-width="0.8"/>
<text x="335.6" y="196.72" text-anchor="end" font-size="6.4" fill="#2a2a2a" stroke="#2a2a2a" stroke-width="0.1">5</text>
<line x1="339.2" y1="205.63" x2="341.2" y2="205.63" stroke="#c8c8c8" stroke-width="0.8"/>
<text x="335.6" y="207.93" text-anchor="end" font-size="6.4" fill="#2a2a2a" stroke="#2a2a2a" stroke-width="0.1">0</text>
<line x1="339.2" y1="216.84" x2="341.2" y2="216.84" stroke="#c8c8c8" stroke-width="0.8"/>
<text x="335.6" y="219.14" text-anchor="end" font-size="6.4" fill="#2a2a2a" stroke="#2a2a2a" stroke-width="0.1">-5</text>
<line x1="339.2" y1="228.05" x2="341.2" y2="228.05" stroke="#c8c8c8" stroke-width="0.8"/>
<text x="335.6" y="230.35" text-anchor="end" font-size="6.4" fill="#2a2a2a" stroke="#2a2a2a" stroke-width="0.1">-10</text>
<line x1="339.2" y1="239.26" x2="341.2" y2="239.26" stroke="#c8c8c8" stroke-width="0.8"/>
<text x="335.6" y="241.56" text-anchor="end" font-size="6.4" fill="#2a2a2a" stroke="#2a2a2a" stroke-width="0.1">-15</text>
<line x1="339.2" y1="250.47" x2="341.2" y2="250.47" stroke="#c8c8c8" stroke-width="0.8"/>
<text x="335.6" y="252.77" text-anchor="end" font-size="6.4" fill="#2a2a2a" stroke="#2a2a2a" stroke-width="0.1">-20</text>
<line x1="339.2" y1="261.68" x2="341.2" y2="261.68" stroke="#c8c8c8" stroke-width="0.8"/>
<text x="335.6" y="263.98" text-anchor="end" font-size="6.4" fill="#2a2a2a" stroke="#2a2a2a" stroke-width="0.1">-25</text>
<line x1="339.2" y1="272.89" x2="341.2" y2="272.89" stroke="#c8c8c8" stroke-width="0.8"/>
<text x="335.6" y="275.19" text-anchor="end" font-size="6.4" fill="#2a2a2a" stroke="#2a2a2a" stroke-width="0.1">-30</text>
<line x1="339.2" y1="284.1" x2="341.2" y2="284.1" stroke="#c8c8c8" stroke-width="0.8"/>
<text x="335.6" y="286.4" text-anchor="end" font-size="6.4" fill="#2a2a2a" stroke="#2a2a2a" stroke-width="0.1">-35</text>
<line x1="572.8" y1="172" x2="574.8" y2="172" stroke="#c8c8c8" stroke-width="0.8"/>
<text x="578.7" y="174.3" font-size="6.4" fill="#2a2a2a" stroke="#2a2a2a" stroke-width="0.1">25</text>
<line x1="572.8" y1="194.42" x2="574.8" y2="194.42" stroke="#c8c8c8" stroke-width="0.8"/>
<text x="578.7" y="196.72" font-size="6.4" fill="#2a2a2a" stroke="#2a2a2a" stroke-width="0.1">20</text>
<line x1="572.8" y1="216.84" x2="574.8" y2="216.84" stroke="#c8c8c8" stroke-width="0.8"/>
<text x="578.7" y="219.14" font-size="6.4" fill="#2a2a2a" stroke="#2a2a2a" stroke-width="0.1">15</text>
<line x1="572.8" y1="239.26" x2="574.8" y2="239.26" stroke="#c8c8c8" stroke-width="0.8"/>
<text x="578.7" y="241.56" font-size="6.4" fill="#2a2a2a" stroke="#2a2a2a" stroke-width="0.1">10</text>
<line x1="572.8" y1="261.68" x2="574.8" y2="261.68" stroke="#c8c8c8" stroke-width="0.8"/>
<text x="578.7" y="263.98" font-size="6.4" fill="#2a2a2a" stroke="#2a2a2a" stroke-width="0.1">5</text>
<line x1="572.8" y1="284.1" x2="574.8" y2="284.1" stroke="#c8c8c8" stroke-width="0.8"/>
<text x="578.7" y="286.4" font-size="6.4" fill="#2a2a2a" stroke="#2a2a2a" stroke-width="0.1">0</text>
<line x1="341.2" y1="284.1" x2="341.2" y2="286.1" stroke="#c8c8c8" stroke-width="0.8"/>
<text transform="translate(344.66,288.6) rotate(-90)" text-anchor="end" font-size="6.4" fill="#2a2a2a" stroke="#2a2a2a" stroke-width="0.1">1.10.</text>
<line x1="358.82" y1="284.1" x2="358.82" y2="286.1" stroke="#c8c8c8" stroke-width="0.8"/>
<text transform="translate(362.28,288.6) rotate(-90)" text-anchor="end" font-size="6.4" fill="#2a2a2a" stroke="#2a2a2a" stroke-width="0.1">8.10.</text>
<line x1="376.44" y1="284.1" x2="376.44" y2="286.1" stroke="#c8c8c8" stroke-width="0.8"/>
<text transform="translate(379.9,288.6) rotate(-90)" text-anchor="end" font-size="6.4" fill="#2a2a2a" stroke="#2a2a2a" stroke-width="0.1">15.10.</text>
<line x1="394.07" y1="284.1" x2="394.07" y2="286.1" stroke="#c8c8c8" stroke-width="0.8"/>
<text transform="translate(397.52,288.6) rotate(-90)" text-anchor="end" font-size="6.4" fill="#2a2a2a" stroke="#2a2a2a" stroke-width="0.1">22.10.</text>
<line x1="411.69" y1="284.1" x2="411.69" y2="286.1" stroke="#c8c8c8" stroke-width="0.8"/>
<text transform="translate(415.15,288.6) rotate(-90)" text-anchor="end" font-size="6.4" fill="#2a2a2a" stroke="#2a2a2a" stroke-width="0.1">29.10.</text>
<line x1="429.31" y1="284.1" x2="429.31" y2="286.1" stroke="#c8c8c8" stroke-width="0.8"/>
<text transform="translate(432.77,288.6) rotate(-90)" text-anchor="end" font-size="6.4" fill="#2a2a2a" stroke="#2a2a2a" stroke-width="0.1">5.11.</text>
<line x1="446.93" y1="284.1" x2="446.93" y2="286.1" stroke="#c8c8c8" stroke-width="0.8"/>
<text transform="translate(450.39,288.6) rotate(-90)" text-anchor="end" font-size="6.4" fill="#2a2a2a" stroke="#2a2a2a" stroke-width="0.1">12.11.</text>
<line x1="464.55" y1="284.1" x2="464.55" y2="286.1" stroke="#c8c8c8" stroke-width="0.8"/>
<text transform="translate(468.01,288.6) rotate(-90)" text-anchor="end" font-size="6.4" fill="#2a2a2a" stroke="#2a2a2a" stroke-width="0.1">19.11.</text>
<line x1="482.17" y1="284.1" x2="482.17" y2="286.1" stroke="#c8c8c8" stroke-width="0.8"/>
<text transform="translate(485.63,288.6) rotate(-90)" text-anchor="end" font-size="6.4" fill="#2a2a2a" stroke="#2a2a2a" stroke-width="0.1">26.11.</text>
<line x1="499.8" y1="284.1" x2="499.8" y2="286.1" stroke="#c8c8c8" stroke-width="0.8"/>
<text transform="translate(503.25,288.6) rotate(-90)" text-anchor="end" font-size="6.4" fill="#2a2a2a" stroke="#2a2a2a" stroke-width="0.1">3.12.</text>
<line x1="517.42" y1="284.1" x2="517.42" y2="286.1" stroke="#c8c8c8" stroke-width="0.8"/>
<text transform="translate(520.88,288.6) rotate(-90)" text-anchor="end" font-size="6.4" fill="#2a2a2a" stroke="#2a2a2a" stroke-width="0.1">10.12.</text>
<line x1="535.04" y1="284.1" x2="535.04" y2="286.1" stroke="#c8c8c8" stroke-width="0.8"/>
<text transform="translate(538.5,288.6) rotate(-90)" text-anchor="end" font-size="6.4" fill="#2a2a2a" stroke="#2a2a2a" stroke-width="0.1">17.12.</text>
<line x1="552.66" y1="284.1" x2="552.66" y2="286.1" stroke="#c8c8c8" stroke-width="0.8"/>
<text transform="translate(556.12,288.6) rotate(-90)" text-anchor="end" font-size="6.4" fill="#2a2a2a" stroke="#2a2a2a" stroke-width="0.1">24.12.</text>
<line x1="570.28" y1="284.1" x2="570.28" y2="286.1" stroke="#c8c8c8" stroke-width="0.8"/>
<text transform="translate(573.74,288.6) rotate(-90)" text-anchor="end" font-size="6.4" fill="#2a2a2a" stroke="#2a2a2a" stroke-width="0.1">31.12.</text>
<line x1="341.2" y1="205.63" x2="572.8" y2="205.63" stroke="#ffca3a" stroke-width="1.4"/>
<rect x="354.42" y="223.66" width="1.25" height="60.44" fill="#4f81bd"/>
<rect x="341.83" y="276.86" width="1.25" height="7.24" fill="#4f81bd"/>
<rect x="344.35" y="238.65" width="1.25" height="45.45" fill="#4f81bd"/>
<rect x="349.39" y="243.98" width="1.25" height="40.12" fill="#4f81bd"/>
<rect x="351.9" y="269" width="1.25" height="15.1" fill="#4f81bd"/>
<rect x="356.94" y="279.52" width="1.25" height="4.58" fill="#4f81bd"/>
<rect x="359.46" y="273.93" width="1.25" height="10.17" fill="#4f81bd"/>
<rect x="364.49" y="283.24" width="1.25" height="0.86" fill="#4f81bd"/>
<rect x="369.52" y="280.32" width="1.25" height="3.78" fill="#4f81bd"/>
<rect x="372.04" y="281.25" width="1.25" height="2.85" fill="#4f81bd"/>
<rect x="377.08" y="280.98" width="1.25" height="3.12" fill="#4f81bd"/>
<rect x="379.59" y="263.94" width="1.25" height="20.16" fill="#4f81bd"/>
<rect x="384.63" y="274.86" width="1.25" height="9.24" fill="#4f81bd"/>
<rect x="387.15" y="283.24" width="1.25" height="0.86" fill="#4f81bd"/>
<rect x="397.22" y="248.64" width="1.25" height="35.46" fill="#4f81bd"/>
<rect x="399.73" y="269.27" width="1.25" height="14.83" fill="#4f81bd"/>
<rect x="414.84" y="265.67" width="1.25" height="18.43" fill="#4f81bd"/>
<rect x="417.36" y="269" width="1.25" height="15.1" fill="#4f81bd"/>
<rect x="419.87" y="275.92" width="1.25" height="8.18" fill="#4f81bd"/>
<rect x="422.39" y="273.26" width="1.25" height="10.84" fill="#4f81bd"/>
<rect x="424.91" y="232.93" width="1.25" height="51.17" fill="#4f81bd"/>
<rect x="427.42" y="262.61" width="1.25" height="21.49" fill="#4f81bd"/>
<rect x="429.94" y="278.99" width="1.25" height="5.11" fill="#4f81bd"/>
<rect x="434.98" y="282.98" width="1.25" height="1.12" fill="#4f81bd"/>
<rect x="437.49" y="282.31" width="1.25" height="1.79" fill="#4f81bd"/>
<rect x="442.53" y="245.97" width="1.25" height="38.13" fill="#4f81bd"/>
<rect x="445.05" y="241.98" width="1.25" height="42.12" fill="#4f81bd"/>
<rect x="447.56" y="265.27" width="1.25" height="18.83" fill="#4f81bd"/>
<rect x="452.6" y="273.26" width="1.25" height="10.84" fill="#4f81bd"/>
<rect x="457.63" y="282.58" width="1.25" height="1.52" fill="#4f81bd"/>
<rect x="460.15" y="269" width="1.25" height="15.1" fill="#4f81bd"/>
<rect x="462.67" y="264.61" width="1.25" height="19.49" fill="#4f81bd"/>
<rect x="467.7" y="274.86" width="1.25" height="9.24" fill="#4f81bd"/>
<rect x="470.22" y="281.25" width="1.25" height="2.85" fill="#4f81bd"/>
<rect x="472.74" y="273.93" width="1.25" height="10.17" fill="#4f81bd"/>
<rect x="475.26" y="272.2" width="1.25" height="11.9" fill="#4f81bd"/>
<rect x="477.77" y="272.86" width="1.25" height="11.24" fill="#4f81bd"/>
<rect x="480.29" y="276.59" width="1.25" height="7.51" fill="#4f81bd"/>
<rect x="492.88" y="283.24" width="1.25" height="0.86" fill="#4f81bd"/>
<rect x="495.39" y="267.54" width="1.25" height="16.56" fill="#4f81bd"/>
<rect x="497.91" y="276.59" width="1.25" height="7.51" fill="#4f81bd"/>
<rect x="507.98" y="282.18" width="1.25" height="1.92" fill="#4f81bd"/>
<rect x="510.5" y="280.32" width="1.25" height="3.78" fill="#4f81bd"/>
<rect x="513.02" y="282.31" width="1.25" height="1.79" fill="#4f81bd"/>
<rect x="515.53" y="283.51" width="1.25" height="0.59" fill="#4f81bd"/>
<rect x="518.05" y="263.94" width="1.25" height="20.16" fill="#4f81bd"/>
<rect x="520.57" y="277.65" width="1.25" height="6.45" fill="#4f81bd"/>
<rect x="523.09" y="280.18" width="1.25" height="3.92" fill="#4f81bd"/>
<rect x="525.6" y="269.27" width="1.25" height="14.83" fill="#4f81bd"/>
<rect x="528.12" y="277.65" width="1.25" height="6.45" fill="#4f81bd"/>
<rect x="530.64" y="280.18" width="1.25" height="3.92" fill="#4f81bd"/>
<rect x="533.16" y="273.93" width="1.25" height="10.17" fill="#4f81bd"/>
<rect x="535.67" y="280.18" width="1.25" height="3.92" fill="#4f81bd"/>
<rect x="550.78" y="282.98" width="1.25" height="1.12" fill="#4f81bd"/>
<rect x="560.85" y="234.66" width="1.25" height="49.44" fill="#4f81bd"/>
<rect x="565.88" y="280.98" width="1.25" height="3.12" fill="#4f81bd"/>
<rect x="568.4" y="253.03" width="1.25" height="31.07" fill="#4f81bd"/>
<rect x="570.92" y="264.34" width="1.25" height="19.76" fill="#4f81bd"/>
<polyline points="342.46,191.31 344.98,189.05 347.49,187.59 350.01,187.32 352.53,187.32 355.05,191.31 357.56,197.3 360.08,194.38 362.6,195.31 365.12,198.37 367.63,197.97 370.15,197.3 372.67,197.04 375.18,199.7 377.7,202.9 380.22,205.96 382.74,208.62 385.25,207.95 387.77,207.29 390.29,211.95 392.81,218.34 395.32,217.94 397.84,215.67 400.36,213.01 402.88,226.59 405.39,238.57 407.91,227.25 410.43,222.86 412.95,219.93 415.46,210.88 417.98,211.68 420.5,210.88 423.02,204.63 425.53,205.56 428.05,206.89 430.57,207.95 433.08,211.28 435.6,215.94 438.12,222.6 440.64,230.58 443.15,216.61 445.67,202.63 448.19,206.62 450.71,216.61 453.22,222.86 455.74,212.61 458.26,220.2 460.78,210.88 463.29,202.9 465.81,208.62 468.33,224.59 470.85,205.29 473.36,200.63 475.88,202.9 478.4,203.96 480.92,205.29 483.43,211.28 485.95,229.92 488.47,245.89 490.98,236.17 493.5,245.22 496.02,248.15 498.54,230.58 501.05,253.88 503.57,259.6 506.09,254.54 508.61,245.22 511.12,238.3 513.64,217.94 516.16,222.6 518.68,227.25 521.19,228.99 523.71,223.93 526.23,218.6 528.75,222.6 531.26,225.52 533.78,225.92 536.3,226.59 538.82,230.58 541.33,263.86 543.85,259.2 546.37,242.56 548.88,253.21 551.4,250.55 553.92,250.55 556.44,253.21 558.95,242.56 561.47,232.58 563.99,239.23 566.51,264.79 569.02,223.26 571.54,213.28" fill="none" stroke="#f50d0d" stroke-width="1.0" stroke-linejoin="round"/>
<text x="406.8" y="179.9" font-size="7.7" fill="#222" textLength="102.1" lengthAdjust="spacingAndGlyphs" stroke="#222" stroke-width="0.1">2012 Basal ice (90th percentile)</text>
<text transform="translate(320.2,268) rotate(-90)" font-size="6.1" fill="#2a2a2a" textLength="70.9" lengthAdjust="spacingAndGlyphs" stroke="#2a2a2a" stroke-width="0.1">Mean temperature (°C)</text>
<text transform="translate(594.3,202.6) rotate(90)" font-size="6.1" fill="#2a2a2a" textLength="55.4" lengthAdjust="spacingAndGlyphs" stroke="#2a2a2a" stroke-width="0.1">Precipitation (mm)</text>
<line x1="32.5" y1="348.7" x2="32.5" y2="456.5" stroke="#8c8c8c" stroke-width="1"/>
<line x1="253.5" y1="348.7" x2="253.5" y2="456.5" stroke="#8c8c8c" stroke-width="1"/>
<line x1="32.5" y1="456.5" x2="253.5" y2="456.5" stroke="#8c8c8c" stroke-width="1"/>
<line x1="30" y1="348.7" x2="32" y2="348.7" stroke="#8c8c8c" stroke-width="0.8"/>
<text x="26.6" y="351" text-anchor="end" font-size="6.4" fill="#7a7a7a" stroke="#7a7a7a" stroke-width="0.1">15</text>
<line x1="30" y1="359.45" x2="32" y2="359.45" stroke="#8c8c8c" stroke-width="0.8"/>
<text x="26.6" y="361.75" text-anchor="end" font-size="6.4" fill="#7a7a7a" stroke="#7a7a7a" stroke-width="0.1">10</text>
<line x1="30" y1="370.2" x2="32" y2="370.2" stroke="#8c8c8c" stroke-width="0.8"/>
<text x="26.6" y="372.5" text-anchor="end" font-size="6.4" fill="#7a7a7a" stroke="#7a7a7a" stroke-width="0.1">5</text>
<line x1="30" y1="380.95" x2="32" y2="380.95" stroke="#8c8c8c" stroke-width="0.8"/>
<text x="26.6" y="383.25" text-anchor="end" font-size="6.4" fill="#7a7a7a" stroke="#7a7a7a" stroke-width="0.1">0</text>
<line x1="30" y1="391.7" x2="32" y2="391.7" stroke="#8c8c8c" stroke-width="0.8"/>
<text x="26.6" y="394" text-anchor="end" font-size="6.4" fill="#7a7a7a" stroke="#7a7a7a" stroke-width="0.1">-5</text>
<line x1="30" y1="402.45" x2="32" y2="402.45" stroke="#8c8c8c" stroke-width="0.8"/>
<text x="26.6" y="404.75" text-anchor="end" font-size="6.4" fill="#7a7a7a" stroke="#7a7a7a" stroke-width="0.1">-10</text>
<line x1="30" y1="413.2" x2="32" y2="413.2" stroke="#8c8c8c" stroke-width="0.8"/>
<text x="26.6" y="415.5" text-anchor="end" font-size="6.4" fill="#7a7a7a" stroke="#7a7a7a" stroke-width="0.1">-15</text>
<line x1="30" y1="423.95" x2="32" y2="423.95" stroke="#8c8c8c" stroke-width="0.8"/>
<text x="26.6" y="426.25" text-anchor="end" font-size="6.4" fill="#7a7a7a" stroke="#7a7a7a" stroke-width="0.1">-20</text>
<line x1="30" y1="434.7" x2="32" y2="434.7" stroke="#8c8c8c" stroke-width="0.8"/>
<text x="26.6" y="437" text-anchor="end" font-size="6.4" fill="#7a7a7a" stroke="#7a7a7a" stroke-width="0.1">-25</text>
<line x1="30" y1="445.45" x2="32" y2="445.45" stroke="#8c8c8c" stroke-width="0.8"/>
<text x="26.6" y="447.75" text-anchor="end" font-size="6.4" fill="#7a7a7a" stroke="#7a7a7a" stroke-width="0.1">-30</text>
<line x1="30" y1="456.2" x2="32" y2="456.2" stroke="#8c8c8c" stroke-width="0.8"/>
<text x="26.6" y="458.5" text-anchor="end" font-size="6.4" fill="#7a7a7a" stroke="#7a7a7a" stroke-width="0.1">-35</text>
<line x1="253.7" y1="348.7" x2="255.7" y2="348.7" stroke="#8c8c8c" stroke-width="0.8"/>
<text x="259.7" y="351" font-size="6.4" fill="#7a7a7a" stroke="#7a7a7a" stroke-width="0.1">25</text>
<line x1="253.7" y1="370.2" x2="255.7" y2="370.2" stroke="#8c8c8c" stroke-width="0.8"/>
<text x="259.7" y="372.5" font-size="6.4" fill="#7a7a7a" stroke="#7a7a7a" stroke-width="0.1">20</text>
<line x1="253.7" y1="391.7" x2="255.7" y2="391.7" stroke="#8c8c8c" stroke-width="0.8"/>
<text x="259.7" y="394" font-size="6.4" fill="#7a7a7a" stroke="#7a7a7a" stroke-width="0.1">15</text>
<line x1="253.7" y1="413.2" x2="255.7" y2="413.2" stroke="#8c8c8c" stroke-width="0.8"/>
<text x="259.7" y="415.5" font-size="6.4" fill="#7a7a7a" stroke="#7a7a7a" stroke-width="0.1">10</text>
<line x1="253.7" y1="434.7" x2="255.7" y2="434.7" stroke="#8c8c8c" stroke-width="0.8"/>
<text x="259.7" y="437" font-size="6.4" fill="#7a7a7a" stroke="#7a7a7a" stroke-width="0.1">5</text>
<line x1="253.7" y1="456.2" x2="255.7" y2="456.2" stroke="#8c8c8c" stroke-width="0.8"/>
<text x="259.7" y="458.5" font-size="6.4" fill="#7a7a7a" stroke="#7a7a7a" stroke-width="0.1">0</text>
<line x1="32" y1="456.2" x2="32" y2="458.2" stroke="#8c8c8c" stroke-width="0.8"/>
<text transform="translate(35.4,460.7) rotate(-90)" text-anchor="end" font-size="6.4" fill="#858585" stroke="#858585" stroke-width="0.1">1.10.</text>
<line x1="48.87" y1="456.2" x2="48.87" y2="458.2" stroke="#8c8c8c" stroke-width="0.8"/>
<text transform="translate(52.27,460.7) rotate(-90)" text-anchor="end" font-size="6.4" fill="#858585" stroke="#858585" stroke-width="0.1">8.10.</text>
<line x1="65.74" y1="456.2" x2="65.74" y2="458.2" stroke="#8c8c8c" stroke-width="0.8"/>
<text transform="translate(69.14,460.7) rotate(-90)" text-anchor="end" font-size="6.4" fill="#858585" stroke="#858585" stroke-width="0.1">15.10.</text>
<line x1="82.61" y1="456.2" x2="82.61" y2="458.2" stroke="#8c8c8c" stroke-width="0.8"/>
<text transform="translate(86.01,460.7) rotate(-90)" text-anchor="end" font-size="6.4" fill="#858585" stroke="#858585" stroke-width="0.1">22.10.</text>
<line x1="99.47" y1="456.2" x2="99.47" y2="458.2" stroke="#8c8c8c" stroke-width="0.8"/>
<text transform="translate(102.88,460.7) rotate(-90)" text-anchor="end" font-size="6.4" fill="#858585" stroke="#858585" stroke-width="0.1">29.10.</text>
<line x1="116.34" y1="456.2" x2="116.34" y2="458.2" stroke="#8c8c8c" stroke-width="0.8"/>
<text transform="translate(119.75,460.7) rotate(-90)" text-anchor="end" font-size="6.4" fill="#858585" stroke="#858585" stroke-width="0.1">5.11.</text>
<line x1="133.21" y1="456.2" x2="133.21" y2="458.2" stroke="#8c8c8c" stroke-width="0.8"/>
<text transform="translate(136.62,460.7) rotate(-90)" text-anchor="end" font-size="6.4" fill="#858585" stroke="#858585" stroke-width="0.1">12.11.</text>
<line x1="150.08" y1="456.2" x2="150.08" y2="458.2" stroke="#8c8c8c" stroke-width="0.8"/>
<text transform="translate(153.48,460.7) rotate(-90)" text-anchor="end" font-size="6.4" fill="#858585" stroke="#858585" stroke-width="0.1">19.11.</text>
<line x1="166.95" y1="456.2" x2="166.95" y2="458.2" stroke="#8c8c8c" stroke-width="0.8"/>
<text transform="translate(170.35,460.7) rotate(-90)" text-anchor="end" font-size="6.4" fill="#858585" stroke="#858585" stroke-width="0.1">26.11.</text>
<line x1="183.82" y1="456.2" x2="183.82" y2="458.2" stroke="#8c8c8c" stroke-width="0.8"/>
<text transform="translate(187.22,460.7) rotate(-90)" text-anchor="end" font-size="6.4" fill="#858585" stroke="#858585" stroke-width="0.1">3.12.</text>
<line x1="200.68" y1="456.2" x2="200.68" y2="458.2" stroke="#8c8c8c" stroke-width="0.8"/>
<text transform="translate(204.09,460.7) rotate(-90)" text-anchor="end" font-size="6.4" fill="#858585" stroke="#858585" stroke-width="0.1">10.12.</text>
<line x1="217.55" y1="456.2" x2="217.55" y2="458.2" stroke="#8c8c8c" stroke-width="0.8"/>
<text transform="translate(220.96,460.7) rotate(-90)" text-anchor="end" font-size="6.4" fill="#858585" stroke="#858585" stroke-width="0.1">17.12.</text>
<line x1="234.42" y1="456.2" x2="234.42" y2="458.2" stroke="#8c8c8c" stroke-width="0.8"/>
<text transform="translate(237.83,460.7) rotate(-90)" text-anchor="end" font-size="6.4" fill="#858585" stroke="#858585" stroke-width="0.1">24.12.</text>
<line x1="251.29" y1="456.2" x2="251.29" y2="458.2" stroke="#8c8c8c" stroke-width="0.8"/>
<text transform="translate(254.7,460.7) rotate(-90)" text-anchor="end" font-size="6.4" fill="#858585" stroke="#858585" stroke-width="0.1">31.12.</text>
<line x1="30" y1="380.95" x2="253.7" y2="380.95" stroke="#ffd95a" stroke-width="1.7"/>
<rect x="51.86" y="351.7" width="1.25" height="104.5" fill="#4f81bd"/>
<rect x="39.81" y="382.9" width="1.25" height="73.3" fill="#4f81bd"/>
<rect x="32.58" y="450.58" width="1.25" height="5.62" fill="#4f81bd"/>
<rect x="42.22" y="441.93" width="1.25" height="14.27" fill="#4f81bd"/>
<rect x="47.04" y="442.86" width="1.25" height="13.34" fill="#4f81bd"/>
<rect x="49.45" y="444.86" width="1.25" height="11.34" fill="#4f81bd"/>
<rect x="54.27" y="452.31" width="1.25" height="3.89" fill="#4f81bd"/>
<rect x="56.68" y="439" width="1.25" height="17.2" fill="#4f81bd"/>
<rect x="61.5" y="438.34" width="1.25" height="17.86" fill="#4f81bd"/>
<rect x="66.32" y="443.26" width="1.25" height="12.94" fill="#4f81bd"/>
<rect x="75.96" y="446.32" width="1.25" height="9.88" fill="#4f81bd"/>
<rect x="80.78" y="449.52" width="1.25" height="6.68" fill="#4f81bd"/>
<rect x="92.82" y="446.32" width="1.25" height="9.88" fill="#4f81bd"/>
<rect x="95.23" y="445.92" width="1.25" height="10.28" fill="#4f81bd"/>
<rect x="100.05" y="435.67" width="1.25" height="20.53" fill="#4f81bd"/>
<rect x="102.46" y="433.28" width="1.25" height="22.92" fill="#4f81bd"/>
<rect x="107.28" y="448.99" width="1.25" height="7.21" fill="#4f81bd"/>
<rect x="109.69" y="443.53" width="1.25" height="12.67" fill="#4f81bd"/>
<rect x="112.1" y="448.19" width="1.25" height="8.01" fill="#4f81bd"/>
<rect x="114.51" y="448.19" width="1.25" height="8.01" fill="#4f81bd"/>
<rect x="116.92" y="407.32" width="1.25" height="48.88" fill="#4f81bd"/>
<rect x="119.33" y="433.28" width="1.25" height="22.92" fill="#4f81bd"/>
<rect x="121.74" y="445.26" width="1.25" height="10.94" fill="#4f81bd"/>
<rect x="124.15" y="447.25" width="1.25" height="8.95" fill="#4f81bd"/>
<rect x="126.56" y="455.24" width="1.25" height="0.96" fill="#4f81bd"/>
<rect x="128.97" y="439.93" width="1.25" height="16.27" fill="#4f81bd"/>
<rect x="131.38" y="445.26" width="1.25" height="10.94" fill="#4f81bd"/>
<rect x="160.3" y="454.58" width="1.25" height="1.62" fill="#4f81bd"/>
<rect x="162.71" y="454.18" width="1.25" height="2.02" fill="#4f81bd"/>
<rect x="169.94" y="426.36" width="1.25" height="29.84" fill="#4f81bd"/>
<rect x="194.04" y="449.25" width="1.25" height="6.95" fill="#4f81bd"/>
<rect x="203.67" y="455.24" width="1.25" height="0.96" fill="#4f81bd"/>
<rect x="206.08" y="452.98" width="1.25" height="3.22" fill="#4f81bd"/>
<rect x="210.9" y="451.25" width="1.25" height="4.95" fill="#4f81bd"/>
<rect x="213.31" y="454.98" width="1.25" height="1.22" fill="#4f81bd"/>
<rect x="220.54" y="450.32" width="1.25" height="5.88" fill="#4f81bd"/>
<rect x="222.95" y="438.2" width="1.25" height="18" fill="#4f81bd"/>
<rect x="225.36" y="453.91" width="1.25" height="2.29" fill="#4f81bd"/>
<rect x="230.18" y="429.55" width="1.25" height="26.65" fill="#4f81bd"/>
<rect x="239.82" y="434.88" width="1.25" height="21.32" fill="#4f81bd"/>
<rect x="244.64" y="454.98" width="1.25" height="1.22" fill="#4f81bd"/>
<rect x="249.46" y="450.32" width="1.25" height="5.88" fill="#4f81bd"/>
<rect x="251.87" y="450.98" width="1.25" height="5.22" fill="#4f81bd"/>
<polyline points="33.2,371.71 35.61,370.65 38.02,377.3 40.43,374.91 42.84,369.58 45.25,364.66 47.66,373.31 50.07,367.72 52.48,368.65 54.89,368.25 57.3,369.32 59.71,374.64 62.12,384.63 64.53,377.04 66.94,376.24 69.35,378.9 71.76,383.29 74.17,387.69 76.58,383.96 78.99,374.91 81.4,378.64 83.81,381.03 86.22,370.65 88.63,368.65 91.04,373.98 93.45,378.64 95.86,391.28 98.27,393.94 100.68,402.86 103.09,395.67 105.5,400.6 107.91,407.25 110.32,391.95 112.73,388.62 115.14,391.95 117.55,383.29 119.96,378.64 122.37,377.3 124.78,379.97 127.19,385.02 129.6,383.96 132.01,382.63 134.42,383.96 136.83,397.27 139.24,414.58 141.65,418.57 144.05,417.24 146.46,399.93 148.87,393.28 151.28,383.96 153.69,383.96 156.1,388.62 158.51,394.88 160.92,393.01 163.33,396.61 165.74,426.56 168.15,425.89 170.56,405.92 172.97,427.22 175.38,418.57 177.79,422.56 180.2,427.22 182.61,428.55 185.02,425.22 187.43,449.85 189.84,451.18 192.25,434.54 194.66,433.88 197.07,442.53 199.48,433.88 201.89,437.87 204.3,437.2 206.71,398.6 209.12,388.62 211.53,393.28 213.94,410.58 216.35,431.88 218.76,433.21 221.17,421.23 223.58,404.59 225.99,417.24 228.4,455.84 230.81,412.58 233.22,426.56 235.63,441.2 238.04,454.51 240.45,427.89 242.86,439.2 245.27,426.56 247.68,414.58 250.09,411.91 252.5,394.61" fill="none" stroke="#f50d0d" stroke-width="1.0" stroke-linejoin="round"/>
<text x="98.7" y="358.4" font-size="7.7" fill="#2a2a2a" textLength="54.3" lengthAdjust="spacingAndGlyphs" stroke="#2a2a2a" stroke-width="0.1">1985 No basal ice</text>
<text transform="translate(12.8,439.4) rotate(-90)" font-size="5.9" fill="#3a3a3a" textLength="68.1" lengthAdjust="spacingAndGlyphs" stroke="#3a3a3a" stroke-width="0.1">Mean temperature (°C)</text>
<text transform="translate(273.9,376.9) rotate(90)" font-size="5.9" fill="#3a3a3a" textLength="52.6" lengthAdjust="spacingAndGlyphs" stroke="#3a3a3a" stroke-width="0.1">Precipitation (mm)</text>
<line x1="327.5" y1="350.8" x2="327.5" y2="458.5" stroke="#7a7a7a" stroke-width="1"/>
<line x1="548.5" y1="350.8" x2="548.5" y2="458.5" stroke="#7a7a7a" stroke-width="1"/>
<line x1="327.5" y1="458.5" x2="548.5" y2="458.5" stroke="#7a7a7a" stroke-width="1"/>
<line x1="325.5" y1="350.8" x2="327.5" y2="350.8" stroke="#7a7a7a" stroke-width="0.8"/>
<text x="321.5" y="353.1" text-anchor="end" font-size="6.4" fill="#2a2a2a" stroke="#2a2a2a" stroke-width="0.1">15</text>
<line x1="325.5" y1="361.57" x2="327.5" y2="361.57" stroke="#7a7a7a" stroke-width="0.8"/>
<text x="321.5" y="363.87" text-anchor="end" font-size="6.4" fill="#2a2a2a" stroke="#2a2a2a" stroke-width="0.1">10</text>
<line x1="325.5" y1="372.34" x2="327.5" y2="372.34" stroke="#7a7a7a" stroke-width="0.8"/>
<text x="321.5" y="374.64" text-anchor="end" font-size="6.4" fill="#2a2a2a" stroke="#2a2a2a" stroke-width="0.1">5</text>
<line x1="325.5" y1="383.11" x2="327.5" y2="383.11" stroke="#7a7a7a" stroke-width="0.8"/>
<text x="321.5" y="385.41" text-anchor="end" font-size="6.4" fill="#2a2a2a" stroke="#2a2a2a" stroke-width="0.1">0</text>
<line x1="325.5" y1="393.88" x2="327.5" y2="393.88" stroke="#7a7a7a" stroke-width="0.8"/>
<text x="321.5" y="396.18" text-anchor="end" font-size="6.4" fill="#2a2a2a" stroke="#2a2a2a" stroke-width="0.1">-5</text>
<line x1="325.5" y1="404.65" x2="327.5" y2="404.65" stroke="#7a7a7a" stroke-width="0.8"/>
<text x="321.5" y="406.95" text-anchor="end" font-size="6.4" fill="#2a2a2a" stroke="#2a2a2a" stroke-width="0.1">-10</text>
<line x1="325.5" y1="415.42" x2="327.5" y2="415.42" stroke="#7a7a7a" stroke-width="0.8"/>
<text x="321.5" y="417.72" text-anchor="end" font-size="6.4" fill="#2a2a2a" stroke="#2a2a2a" stroke-width="0.1">-15</text>
<line x1="325.5" y1="426.19" x2="327.5" y2="426.19" stroke="#7a7a7a" stroke-width="0.8"/>
<text x="321.5" y="428.49" text-anchor="end" font-size="6.4" fill="#2a2a2a" stroke="#2a2a2a" stroke-width="0.1">-20</text>
<line x1="325.5" y1="436.96" x2="327.5" y2="436.96" stroke="#7a7a7a" stroke-width="0.8"/>
<text x="321.5" y="439.26" text-anchor="end" font-size="6.4" fill="#2a2a2a" stroke="#2a2a2a" stroke-width="0.1">-25</text>
<line x1="325.5" y1="447.73" x2="327.5" y2="447.73" stroke="#7a7a7a" stroke-width="0.8"/>
<text x="321.5" y="450.03" text-anchor="end" font-size="6.4" fill="#2a2a2a" stroke="#2a2a2a" stroke-width="0.1">-30</text>
<line x1="325.5" y1="458.5" x2="327.5" y2="458.5" stroke="#7a7a7a" stroke-width="0.8"/>
<text x="321.5" y="460.8" text-anchor="end" font-size="6.4" fill="#2a2a2a" stroke="#2a2a2a" stroke-width="0.1">-35</text>
<line x1="548.1" y1="350.8" x2="550.1" y2="350.8" stroke="#7a7a7a" stroke-width="0.8"/>
<text x="554.2" y="353.1" font-size="6.4" fill="#2a2a2a" stroke="#2a2a2a" stroke-width="0.1">25</text>
<line x1="548.1" y1="372.34" x2="550.1" y2="372.34" stroke="#7a7a7a" stroke-width="0.8"/>
<text x="554.2" y="374.64" font-size="6.4" fill="#2a2a2a" stroke="#2a2a2a" stroke-width="0.1">20</text>
<line x1="548.1" y1="393.88" x2="550.1" y2="393.88" stroke="#7a7a7a" stroke-width="0.8"/>
<text x="554.2" y="396.18" font-size="6.4" fill="#2a2a2a" stroke="#2a2a2a" stroke-width="0.1">15</text>
<line x1="548.1" y1="415.42" x2="550.1" y2="415.42" stroke="#7a7a7a" stroke-width="0.8"/>
<text x="554.2" y="417.72" font-size="6.4" fill="#2a2a2a" stroke="#2a2a2a" stroke-width="0.1">10</text>
<line x1="548.1" y1="436.96" x2="550.1" y2="436.96" stroke="#7a7a7a" stroke-width="0.8"/>
<text x="554.2" y="439.26" font-size="6.4" fill="#2a2a2a" stroke="#2a2a2a" stroke-width="0.1">5</text>
<line x1="548.1" y1="458.5" x2="550.1" y2="458.5" stroke="#7a7a7a" stroke-width="0.8"/>
<text x="554.2" y="460.8" font-size="6.4" fill="#2a2a2a" stroke="#2a2a2a" stroke-width="0.1">0</text>
<line x1="327.5" y1="458.5" x2="327.5" y2="460.5" stroke="#7a7a7a" stroke-width="0.8"/>
<text transform="translate(330.9,463) rotate(-90)" text-anchor="end" font-size="6.4" fill="#2a2a2a" stroke="#2a2a2a" stroke-width="0.1">1.10.</text>
<line x1="344.28" y1="458.5" x2="344.28" y2="460.5" stroke="#7a7a7a" stroke-width="0.8"/>
<text transform="translate(347.68,463) rotate(-90)" text-anchor="end" font-size="6.4" fill="#2a2a2a" stroke="#2a2a2a" stroke-width="0.1">8.10.</text>
<line x1="361.07" y1="458.5" x2="361.07" y2="460.5" stroke="#7a7a7a" stroke-width="0.8"/>
<text transform="translate(364.47,463) rotate(-90)" text-anchor="end" font-size="6.4" fill="#2a2a2a" stroke="#2a2a2a" stroke-width="0.1">15.10.</text>
<line x1="377.85" y1="458.5" x2="377.85" y2="460.5" stroke="#7a7a7a" stroke-width="0.8"/>
<text transform="translate(381.25,463) rotate(-90)" text-anchor="end" font-size="6.4" fill="#2a2a2a" stroke="#2a2a2a" stroke-width="0.1">22.10.</text>
<line x1="394.64" y1="458.5" x2="394.64" y2="460.5" stroke="#7a7a7a" stroke-width="0.8"/>
<text transform="translate(398.04,463) rotate(-90)" text-anchor="end" font-size="6.4" fill="#2a2a2a" stroke="#2a2a2a" stroke-width="0.1">29.10.</text>
<line x1="411.42" y1="458.5" x2="411.42" y2="460.5" stroke="#7a7a7a" stroke-width="0.8"/>
<text transform="translate(414.82,463) rotate(-90)" text-anchor="end" font-size="6.4" fill="#2a2a2a" stroke="#2a2a2a" stroke-width="0.1">5.11.</text>
<line x1="428.21" y1="458.5" x2="428.21" y2="460.5" stroke="#7a7a7a" stroke-width="0.8"/>
<text transform="translate(431.61,463) rotate(-90)" text-anchor="end" font-size="6.4" fill="#2a2a2a" stroke="#2a2a2a" stroke-width="0.1">12.11.</text>
<line x1="444.99" y1="458.5" x2="444.99" y2="460.5" stroke="#7a7a7a" stroke-width="0.8"/>
<text transform="translate(448.39,463) rotate(-90)" text-anchor="end" font-size="6.4" fill="#2a2a2a" stroke="#2a2a2a" stroke-width="0.1">19.11.</text>
<line x1="461.78" y1="458.5" x2="461.78" y2="460.5" stroke="#7a7a7a" stroke-width="0.8"/>
<text transform="translate(465.18,463) rotate(-90)" text-anchor="end" font-size="6.4" fill="#2a2a2a" stroke="#2a2a2a" stroke-width="0.1">26.11.</text>
<line x1="478.56" y1="458.5" x2="478.56" y2="460.5" stroke="#7a7a7a" stroke-width="0.8"/>
<text transform="translate(481.96,463) rotate(-90)" text-anchor="end" font-size="6.4" fill="#2a2a2a" stroke="#2a2a2a" stroke-width="0.1">3.12.</text>
<line x1="495.35" y1="458.5" x2="495.35" y2="460.5" stroke="#7a7a7a" stroke-width="0.8"/>
<text transform="translate(498.75,463) rotate(-90)" text-anchor="end" font-size="6.4" fill="#2a2a2a" stroke="#2a2a2a" stroke-width="0.1">10.12.</text>
<line x1="512.13" y1="458.5" x2="512.13" y2="460.5" stroke="#7a7a7a" stroke-width="0.8"/>
<text transform="translate(515.53,463) rotate(-90)" text-anchor="end" font-size="6.4" fill="#2a2a2a" stroke="#2a2a2a" stroke-width="0.1">17.12.</text>
<line x1="528.92" y1="458.5" x2="528.92" y2="460.5" stroke="#7a7a7a" stroke-width="0.8"/>
<text transform="translate(532.32,463) rotate(-90)" text-anchor="end" font-size="6.4" fill="#2a2a2a" stroke="#2a2a2a" stroke-width="0.1">24.12.</text>
<line x1="545.7" y1="458.5" x2="545.7" y2="460.5" stroke="#7a7a7a" stroke-width="0.8"/>
<text transform="translate(549.1,463) rotate(-90)" text-anchor="end" font-size="6.4" fill="#2a2a2a" stroke="#2a2a2a" stroke-width="0.1">31.12.</text>
<line x1="325" y1="383.11" x2="548.1" y2="383.11" stroke="#fbe08a" stroke-width="1.7"/>
<rect x="342.46" y="441.93" width="1.25" height="16.57" fill="#4f81bd"/>
<rect x="347.26" y="446.19" width="1.25" height="12.31" fill="#4f81bd"/>
<rect x="349.65" y="455.91" width="1.25" height="2.59" fill="#4f81bd"/>
<rect x="364.04" y="446.19" width="1.25" height="12.31" fill="#4f81bd"/>
<rect x="373.63" y="456.58" width="1.25" height="1.92" fill="#4f81bd"/>
<rect x="376.03" y="456.58" width="1.25" height="1.92" fill="#4f81bd"/>
<rect x="383.22" y="456.98" width="1.25" height="1.52" fill="#4f81bd"/>
<rect x="385.62" y="456.98" width="1.25" height="1.52" fill="#4f81bd"/>
<rect x="392.82" y="452.98" width="1.25" height="5.52" fill="#4f81bd"/>
<rect x="400.01" y="433.28" width="1.25" height="25.22" fill="#4f81bd"/>
<rect x="402.41" y="447.92" width="1.25" height="10.58" fill="#4f81bd"/>
<rect x="404.8" y="449.65" width="1.25" height="8.85" fill="#4f81bd"/>
<rect x="409.6" y="448.86" width="1.25" height="9.64" fill="#4f81bd"/>
<rect x="416.79" y="455.91" width="1.25" height="2.59" fill="#4f81bd"/>
<rect x="431.18" y="457.24" width="1.25" height="1.26" fill="#4f81bd"/>
<rect x="433.58" y="456.31" width="1.25" height="2.19" fill="#4f81bd"/>
<rect x="440.77" y="455.51" width="1.25" height="2.99" fill="#4f81bd"/>
<rect x="455.16" y="457.24" width="1.25" height="1.26" fill="#4f81bd"/>
<rect x="469.55" y="455.24" width="1.25" height="3.26" fill="#4f81bd"/>
<rect x="471.94" y="456.58" width="1.25" height="1.92" fill="#4f81bd"/>
<rect x="474.34" y="453.91" width="1.25" height="4.59" fill="#4f81bd"/>
<rect x="479.14" y="455.24" width="1.25" height="3.26" fill="#4f81bd"/>
<rect x="481.53" y="456.58" width="1.25" height="1.92" fill="#4f81bd"/>
<rect x="503.12" y="457.51" width="1.25" height="0.99" fill="#4f81bd"/>
<rect x="512.71" y="442.6" width="1.25" height="15.9" fill="#4f81bd"/>
<rect x="517.5" y="453.91" width="1.25" height="4.59" fill="#4f81bd"/>
<rect x="527.09" y="457.24" width="1.25" height="1.26" fill="#4f81bd"/>
<rect x="531.89" y="455.64" width="1.25" height="2.86" fill="#4f81bd"/>
<rect x="534.29" y="441.27" width="1.25" height="17.23" fill="#4f81bd"/>
<polyline points="328.7,370.31 331.1,373.37 333.49,368.98 335.89,367.65 338.29,375.63 340.69,368.98 343.09,365.65 345.48,366.71 347.88,364.58 350.28,366.71 352.68,364.98 355.07,364.05 357.47,368.31 359.87,372.3 362.27,374.3 364.67,367.65 367.06,361.66 369.46,365.65 371.86,370.71 374.26,369.38 376.66,371.64 379.05,374.3 381.45,376.3 383.85,378.69 386.25,380.29 388.64,380.02 391.04,374.97 393.44,372.97 395.84,371.24 398.24,378.29 400.63,376.66 403.03,383.31 405.43,386.24 407.83,385.31 410.23,385.97 412.62,391.3 415.02,397.95 417.42,400.62 419.82,394.63 422.21,401.95 424.61,404.88 427.01,412.6 429.41,431.23 431.81,419.25 434.2,404.88 436.6,406.21 439,396.62 441.4,393.96 443.79,390.23 446.19,396.62 448.59,403.94 450.99,418.59 453.39,417.65 455.78,414.59 458.18,405.67 460.58,404.34 462.98,393.69 465.38,403.28 467.77,399.28 470.17,404.88 472.57,399.95 474.97,396.62 477.36,399.95 479.76,397.95 482.16,383.31 484.56,408.6 486.96,444.54 489.35,415.26 491.75,431.23 494.15,414.59 496.55,420.58 498.94,403.01 501.34,430.57 503.74,434.56 506.14,431.5 508.54,443.21 510.93,436.56 513.33,417.65 515.73,428.57 518.13,439.22 520.52,431.5 522.92,439.88 525.32,428.57 527.72,401.28 530.12,398.62 532.51,386.24 534.91,393.96 537.31,405.94 539.71,424.58 542.11,432.56 544.5,451.73 546.9,421.91" fill="none" stroke="#f50d0d" stroke-width="1.0" stroke-linejoin="round"/>
<text x="413.8" y="358.4" font-size="7.7" fill="#222" textLength="54.2" lengthAdjust="spacingAndGlyphs" stroke="#222" stroke-width="0.1">1987 No basal ice</text>
<text transform="translate(308.4,440.6) rotate(-90)" font-size="5.9" fill="#2a2a2a" textLength="68.5" lengthAdjust="spacingAndGlyphs" stroke="#2a2a2a" stroke-width="0.1">Mean temperature (°C)</text>
<text transform="translate(568,380.7) rotate(90)" font-size="5.9" fill="#2a2a2a" textLength="51.9" lengthAdjust="spacingAndGlyphs" stroke="#2a2a2a" stroke-width="0.1">Precipitation (mm)</text>
<line x1="33.5" y1="487.5" x2="33.5" y2="596.5" stroke="#7a7a7a" stroke-width="1"/>
<line x1="254.5" y1="487.5" x2="254.5" y2="596.5" stroke="#7a7a7a" stroke-width="1"/>
<line x1="33.5" y1="596.5" x2="254.5" y2="596.5" stroke="#7a7a7a" stroke-width="1"/>
<line x1="31.8" y1="487.5" x2="33.8" y2="487.5" stroke="#7a7a7a" stroke-width="0.8"/>
<text x="27.8" y="489.8" text-anchor="end" font-size="6.4" fill="#2a2a2a" stroke="#2a2a2a" stroke-width="0.1">15</text>
<line x1="31.8" y1="498.35" x2="33.8" y2="498.35" stroke="#7a7a7a" stroke-width="0.8"/>
<text x="27.8" y="500.65" text-anchor="end" font-size="6.4" fill="#2a2a2a" stroke="#2a2a2a" stroke-width="0.1">10</text>
<line x1="31.8" y1="509.2" x2="33.8" y2="509.2" stroke="#7a7a7a" stroke-width="0.8"/>
<text x="27.8" y="511.5" text-anchor="end" font-size="6.4" fill="#2a2a2a" stroke="#2a2a2a" stroke-width="0.1">5</text>
<line x1="31.8" y1="520.05" x2="33.8" y2="520.05" stroke="#7a7a7a" stroke-width="0.8"/>
<text x="27.8" y="522.35" text-anchor="end" font-size="6.4" fill="#2a2a2a" stroke="#2a2a2a" stroke-width="0.1">0</text>
<line x1="31.8" y1="530.9" x2="33.8" y2="530.9" stroke="#7a7a7a" stroke-width="0.8"/>
<text x="27.8" y="533.2" text-anchor="end" font-size="6.4" fill="#2a2a2a" stroke="#2a2a2a" stroke-width="0.1">-5</text>
<line x1="31.8" y1="541.75" x2="33.8" y2="541.75" stroke="#7a7a7a" stroke-width="0.8"/>
<text x="27.8" y="544.05" text-anchor="end" font-size="6.4" fill="#2a2a2a" stroke="#2a2a2a" stroke-width="0.1">-10</text>
<line x1="31.8" y1="552.6" x2="33.8" y2="552.6" stroke="#7a7a7a" stroke-width="0.8"/>
<text x="27.8" y="554.9" text-anchor="end" font-size="6.4" fill="#2a2a2a" stroke="#2a2a2a" stroke-width="0.1">-15</text>
<line x1="31.8" y1="563.45" x2="33.8" y2="563.45" stroke="#7a7a7a" stroke-width="0.8"/>
<text x="27.8" y="565.75" text-anchor="end" font-size="6.4" fill="#2a2a2a" stroke="#2a2a2a" stroke-width="0.1">-20</text>
<line x1="31.8" y1="574.3" x2="33.8" y2="574.3" stroke="#7a7a7a" stroke-width="0.8"/>
<text x="27.8" y="576.6" text-anchor="end" font-size="6.4" fill="#2a2a2a" stroke="#2a2a2a" stroke-width="0.1">-25</text>
<line x1="31.8" y1="585.15" x2="33.8" y2="585.15" stroke="#7a7a7a" stroke-width="0.8"/>
<text x="27.8" y="587.45" text-anchor="end" font-size="6.4" fill="#2a2a2a" stroke="#2a2a2a" stroke-width="0.1">-30</text>
<line x1="31.8" y1="596" x2="33.8" y2="596" stroke="#7a7a7a" stroke-width="0.8"/>
<text x="27.8" y="598.3" text-anchor="end" font-size="6.4" fill="#2a2a2a" stroke="#2a2a2a" stroke-width="0.1">-35</text>
<line x1="254.2" y1="487.5" x2="256.2" y2="487.5" stroke="#7a7a7a" stroke-width="0.8"/>
<text x="260.5" y="489.8" font-size="6.4" fill="#2a2a2a" stroke="#2a2a2a" stroke-width="0.1">25</text>
<line x1="254.2" y1="509.2" x2="256.2" y2="509.2" stroke="#7a7a7a" stroke-width="0.8"/>
<text x="260.5" y="511.5" font-size="6.4" fill="#2a2a2a" stroke="#2a2a2a" stroke-width="0.1">20</text>
<line x1="254.2" y1="530.9" x2="256.2" y2="530.9" stroke="#7a7a7a" stroke-width="0.8"/>
<text x="260.5" y="533.2" font-size="6.4" fill="#2a2a2a" stroke="#2a2a2a" stroke-width="0.1">15</text>
<line x1="254.2" y1="552.6" x2="256.2" y2="552.6" stroke="#7a7a7a" stroke-width="0.8"/>
<text x="260.5" y="554.9" font-size="6.4" fill="#2a2a2a" stroke="#2a2a2a" stroke-width="0.1">10</text>
<line x1="254.2" y1="574.3" x2="256.2" y2="574.3" stroke="#7a7a7a" stroke-width="0.8"/>
<text x="260.5" y="576.6" font-size="6.4" fill="#2a2a2a" stroke="#2a2a2a" stroke-width="0.1">5</text>
<line x1="254.2" y1="596" x2="256.2" y2="596" stroke="#7a7a7a" stroke-width="0.8"/>
<text x="260.5" y="598.3" font-size="6.4" fill="#2a2a2a" stroke="#2a2a2a" stroke-width="0.1">0</text>
<line x1="33.8" y1="596" x2="33.8" y2="598" stroke="#7a7a7a" stroke-width="0.8"/>
<text transform="translate(37.2,600.5) rotate(-90)" text-anchor="end" font-size="6.4" fill="#555" stroke="#555" stroke-width="0.1">1.10.</text>
<line x1="50.57" y1="596" x2="50.57" y2="598" stroke="#7a7a7a" stroke-width="0.8"/>
<text transform="translate(53.97,600.5) rotate(-90)" text-anchor="end" font-size="6.4" fill="#555" stroke="#555" stroke-width="0.1">8.10.</text>
<line x1="67.34" y1="596" x2="67.34" y2="598" stroke="#7a7a7a" stroke-width="0.8"/>
<text transform="translate(70.74,600.5) rotate(-90)" text-anchor="end" font-size="6.4" fill="#555" stroke="#555" stroke-width="0.1">15.10.</text>
<line x1="84.11" y1="596" x2="84.11" y2="598" stroke="#7a7a7a" stroke-width="0.8"/>
<text transform="translate(87.51,600.5) rotate(-90)" text-anchor="end" font-size="6.4" fill="#555" stroke="#555" stroke-width="0.1">22.10.</text>
<line x1="100.88" y1="596" x2="100.88" y2="598" stroke="#7a7a7a" stroke-width="0.8"/>
<text transform="translate(104.28,600.5) rotate(-90)" text-anchor="end" font-size="6.4" fill="#555" stroke="#555" stroke-width="0.1">29.10.</text>
<line x1="117.65" y1="596" x2="117.65" y2="598" stroke="#7a7a7a" stroke-width="0.8"/>
<text transform="translate(121.05,600.5) rotate(-90)" text-anchor="end" font-size="6.4" fill="#555" stroke="#555" stroke-width="0.1">5.11.</text>
<line x1="134.42" y1="596" x2="134.42" y2="598" stroke="#7a7a7a" stroke-width="0.8"/>
<text transform="translate(137.82,600.5) rotate(-90)" text-anchor="end" font-size="6.4" fill="#555" stroke="#555" stroke-width="0.1">12.11.</text>
<line x1="151.19" y1="596" x2="151.19" y2="598" stroke="#7a7a7a" stroke-width="0.8"/>
<text transform="translate(154.58,600.5) rotate(-90)" text-anchor="end" font-size="6.4" fill="#555" stroke="#555" stroke-width="0.1">19.11.</text>
<line x1="167.96" y1="596" x2="167.96" y2="598" stroke="#7a7a7a" stroke-width="0.8"/>
<text transform="translate(171.35,600.5) rotate(-90)" text-anchor="end" font-size="6.4" fill="#555" stroke="#555" stroke-width="0.1">26.11.</text>
<line x1="184.73" y1="596" x2="184.73" y2="598" stroke="#7a7a7a" stroke-width="0.8"/>
<text transform="translate(188.12,600.5) rotate(-90)" text-anchor="end" font-size="6.4" fill="#555" stroke="#555" stroke-width="0.1">3.12.</text>
<line x1="201.5" y1="596" x2="201.5" y2="598" stroke="#7a7a7a" stroke-width="0.8"/>
<text transform="translate(204.89,600.5) rotate(-90)" text-anchor="end" font-size="6.4" fill="#555" stroke="#555" stroke-width="0.1">10.12.</text>
<line x1="218.27" y1="596" x2="218.27" y2="598" stroke="#7a7a7a" stroke-width="0.8"/>
<text transform="translate(221.66,600.5) rotate(-90)" text-anchor="end" font-size="6.4" fill="#555" stroke="#555" stroke-width="0.1">17.12.</text>
<line x1="235.03" y1="596" x2="235.03" y2="598" stroke="#7a7a7a" stroke-width="0.8"/>
<text transform="translate(238.43,600.5) rotate(-90)" text-anchor="end" font-size="6.4" fill="#555" stroke="#555" stroke-width="0.1">24.12.</text>
<line x1="251.8" y1="596" x2="251.8" y2="598" stroke="#7a7a7a" stroke-width="0.8"/>
<text transform="translate(255.2,600.5) rotate(-90)" text-anchor="end" font-size="6.4" fill="#555" stroke="#555" stroke-width="0.1">31.12.</text>
<line x1="31.7" y1="520.05" x2="254.2" y2="520.05" stroke="#f8d94c" stroke-width="1.7"/>
<rect x="41.56" y="594.31" width="1.25" height="1.69" fill="#4f81bd"/>
<rect x="46.35" y="592.31" width="1.25" height="3.69" fill="#4f81bd"/>
<rect x="58.33" y="579.27" width="1.25" height="16.73" fill="#4f81bd"/>
<rect x="60.72" y="581.93" width="1.25" height="14.07" fill="#4f81bd"/>
<rect x="65.52" y="587.92" width="1.25" height="8.08" fill="#4f81bd"/>
<rect x="87.08" y="565.96" width="1.25" height="30.04" fill="#4f81bd"/>
<rect x="89.47" y="545.06" width="1.25" height="50.94" fill="#4f81bd"/>
<rect x="91.87" y="572.35" width="1.25" height="23.65" fill="#4f81bd"/>
<rect x="94.26" y="593.91" width="1.25" height="2.09" fill="#4f81bd"/>
<rect x="96.66" y="544.26" width="1.25" height="51.74" fill="#4f81bd"/>
<rect x="99.06" y="586.86" width="1.25" height="9.14" fill="#4f81bd"/>
<rect x="101.45" y="594.98" width="1.25" height="1.02" fill="#4f81bd"/>
<rect x="106.24" y="594.31" width="1.25" height="1.69" fill="#4f81bd"/>
<rect x="108.64" y="586.86" width="1.25" height="9.14" fill="#4f81bd"/>
<rect x="115.82" y="583.53" width="1.25" height="12.47" fill="#4f81bd"/>
<rect x="118.22" y="588.99" width="1.25" height="7.01" fill="#4f81bd"/>
<rect x="134.99" y="594.31" width="1.25" height="1.69" fill="#4f81bd"/>
<rect x="139.78" y="578.6" width="1.25" height="17.4" fill="#4f81bd"/>
<rect x="142.18" y="593.24" width="1.25" height="2.76" fill="#4f81bd"/>
<rect x="144.57" y="594.31" width="1.25" height="1.69" fill="#4f81bd"/>
<rect x="146.97" y="588.99" width="1.25" height="7.01" fill="#4f81bd"/>
<rect x="151.76" y="594.58" width="1.25" height="1.42" fill="#4f81bd"/>
<rect x="154.16" y="592.98" width="1.25" height="3.02" fill="#4f81bd"/>
<rect x="158.95" y="572.61" width="1.25" height="23.39" fill="#4f81bd"/>
<rect x="161.34" y="591.25" width="1.25" height="4.75" fill="#4f81bd"/>
<rect x="163.74" y="581" width="1.25" height="15" fill="#4f81bd"/>
<rect x="168.53" y="581.93" width="1.25" height="14.07" fill="#4f81bd"/>
<rect x="187.69" y="592.98" width="1.25" height="3.02" fill="#4f81bd"/>
<rect x="190.09" y="571.55" width="1.25" height="24.45" fill="#4f81bd"/>
<rect x="197.28" y="594.31" width="1.25" height="1.69" fill="#4f81bd"/>
<rect x="199.67" y="593.91" width="1.25" height="2.09" fill="#4f81bd"/>
<rect x="202.07" y="573.01" width="1.25" height="22.99" fill="#4f81bd"/>
<rect x="204.46" y="563.96" width="1.25" height="32.04" fill="#4f81bd"/>
<rect x="206.86" y="592.31" width="1.25" height="3.69" fill="#4f81bd"/>
<rect x="209.26" y="584.33" width="1.25" height="11.67" fill="#4f81bd"/>
<rect x="214.05" y="594.31" width="1.25" height="1.69" fill="#4f81bd"/>
<rect x="216.44" y="593.91" width="1.25" height="2.09" fill="#4f81bd"/>
<rect x="218.84" y="591.25" width="1.25" height="4.75" fill="#4f81bd"/>
<rect x="221.23" y="571.95" width="1.25" height="24.05" fill="#4f81bd"/>
<rect x="223.63" y="590.58" width="1.25" height="5.42" fill="#4f81bd"/>
<rect x="226.02" y="589.52" width="1.25" height="6.48" fill="#4f81bd"/>
<rect x="228.42" y="586.86" width="1.25" height="9.14" fill="#4f81bd"/>
<rect x="230.82" y="594.58" width="1.25" height="1.42" fill="#4f81bd"/>
<rect x="233.21" y="594.31" width="1.25" height="1.69" fill="#4f81bd"/>
<rect x="238" y="594.84" width="1.25" height="1.16" fill="#4f81bd"/>
<rect x="240.4" y="575.01" width="1.25" height="20.99" fill="#4f81bd"/>
<rect x="242.79" y="593.91" width="1.25" height="2.09" fill="#4f81bd"/>
<rect x="247.59" y="592.18" width="1.25" height="3.82" fill="#4f81bd"/>
<rect x="249.98" y="583.93" width="1.25" height="12.07" fill="#4f81bd"/>
<polyline points="35,523.22 37.39,524.95 39.79,528.94 42.18,526.95 44.58,519.63 46.98,516.96 49.37,502.72 51.77,507.25 54.16,507.65 56.56,517.63 58.95,514.3 61.35,515.63 63.75,520.96 66.14,526.95 68.54,532.27 70.93,532 73.33,528.28 75.72,531.61 78.12,537.86 80.52,529.61 82.91,518.69 85.31,518.96 87.7,514.97 90.1,518.29 92.49,515.63 94.89,512.57 97.28,517.63 99.68,518.69 102.08,520.56 104.47,529.61 106.87,534.27 109.26,528.94 111.66,522.95 114.05,538.26 116.45,528.28 118.85,516.96 121.24,522.29 123.64,540.92 126.03,542.25 128.43,556.9 130.82,542.92 133.22,541.59 135.62,528.01 138.01,534.93 140.41,526.95 142.8,527.61 145.2,531.61 147.59,550.24 149.99,542.25 152.38,548.24 154.78,527.21 157.18,532.27 159.57,540.26 161.97,532.94 164.36,530.67 166.76,568.21 169.15,540.92 171.55,522.29 173.95,524.95 176.34,532.94 178.74,550.91 181.13,525.35 183.53,530.94 185.92,526.95 188.32,522.69 190.72,523.62 193.11,545.58 195.51,530.94 197.9,528.94 200.3,524.95 202.69,522.69 205.09,523.22 207.48,529.61 209.88,535.6 212.28,536.26 214.67,540.92 217.07,548.24 219.46,552.9 221.86,542.25 224.25,525.62 226.65,520.56 229.05,521.62 231.44,550.24 233.84,524.95 236.23,524.55 238.63,526.68 241.02,520.56 243.42,522.95 245.82,526.28 248.21,551.57 250.61,538.93 253,555.57" fill="none" stroke="#f50d0d" stroke-width="1.0" stroke-linejoin="round"/>
<text x="97.5" y="497.9" font-size="7.7" fill="#222" textLength="53.8" lengthAdjust="spacingAndGlyphs" stroke="#222" stroke-width="0.1">1994 No basal ice</text>
<text transform="translate(13.5,575.8) rotate(-90)" font-size="5.9" fill="#2a2a2a" textLength="67.7" lengthAdjust="spacingAndGlyphs" stroke="#2a2a2a" stroke-width="0.1">Mean temperature (°C)</text>
<text transform="translate(273.4,517) rotate(90)" font-size="5.9" fill="#2a2a2a" textLength="53" lengthAdjust="spacingAndGlyphs" stroke="#2a2a2a" stroke-width="0.1">Precipitation (mm)</text>
<line x1="328.5" y1="490" x2="328.5" y2="598.5" stroke="#c4c4c4" stroke-width="1"/>
<line x1="549.5" y1="490" x2="549.5" y2="598.5" stroke="#c4c4c4" stroke-width="1"/>
<line x1="328.5" y1="598.5" x2="549.5" y2="598.5" stroke="#c4c4c4" stroke-width="1"/>
<line x1="326.7" y1="490" x2="328.7" y2="490" stroke="#c4c4c4" stroke-width="0.8"/>
<text x="322.5" y="492.3" text-anchor="end" font-size="6.4" fill="#2a2a2a" stroke="#2a2a2a" stroke-width="0.1">15</text>
<line x1="326.7" y1="500.8" x2="328.7" y2="500.8" stroke="#c4c4c4" stroke-width="0.8"/>
<text x="322.5" y="503.1" text-anchor="end" font-size="6.4" fill="#2a2a2a" stroke="#2a2a2a" stroke-width="0.1">10</text>
<line x1="326.7" y1="511.6" x2="328.7" y2="511.6" stroke="#c4c4c4" stroke-width="0.8"/>
<text x="322.5" y="513.9" text-anchor="end" font-size="6.4" fill="#2a2a2a" stroke="#2a2a2a" stroke-width="0.1">5</text>
<line x1="326.7" y1="522.4" x2="328.7" y2="522.4" stroke="#c4c4c4" stroke-width="0.8"/>
<text x="322.5" y="524.7" text-anchor="end" font-size="6.4" fill="#2a2a2a" stroke="#2a2a2a" stroke-width="0.1">0</text>
<line x1="326.7" y1="533.2" x2="328.7" y2="533.2" stroke="#c4c4c4" stroke-width="0.8"/>
<text x="322.5" y="535.5" text-anchor="end" font-size="6.4" fill="#2a2a2a" stroke="#2a2a2a" stroke-width="0.1">-5</text>
<line x1="326.7" y1="544" x2="328.7" y2="544" stroke="#c4c4c4" stroke-width="0.8"/>
<text x="322.5" y="546.3" text-anchor="end" font-size="6.4" fill="#2a2a2a" stroke="#2a2a2a" stroke-width="0.1">-10</text>
<line x1="326.7" y1="554.8" x2="328.7" y2="554.8" stroke="#c4c4c4" stroke-width="0.8"/>
<text x="322.5" y="557.1" text-anchor="end" font-size="6.4" fill="#2a2a2a" stroke="#2a2a2a" stroke-width="0.1">-15</text>
<line x1="326.7" y1="565.6" x2="328.7" y2="565.6" stroke="#c4c4c4" stroke-width="0.8"/>
<text x="322.5" y="567.9" text-anchor="end" font-size="6.4" fill="#2a2a2a" stroke="#2a2a2a" stroke-width="0.1">-20</text>
<line x1="326.7" y1="576.4" x2="328.7" y2="576.4" stroke="#c4c4c4" stroke-width="0.8"/>
<text x="322.5" y="578.7" text-anchor="end" font-size="6.4" fill="#2a2a2a" stroke="#2a2a2a" stroke-width="0.1">-25</text>
<line x1="326.7" y1="587.2" x2="328.7" y2="587.2" stroke="#c4c4c4" stroke-width="0.8"/>
<text x="322.5" y="589.5" text-anchor="end" font-size="6.4" fill="#2a2a2a" stroke="#2a2a2a" stroke-width="0.1">-30</text>
<line x1="326.7" y1="598" x2="328.7" y2="598" stroke="#c4c4c4" stroke-width="0.8"/>
<text x="322.5" y="600.3" text-anchor="end" font-size="6.4" fill="#2a2a2a" stroke="#2a2a2a" stroke-width="0.1">-35</text>
<line x1="549.5" y1="490" x2="551.5" y2="490" stroke="#c4c4c4" stroke-width="0.8"/>
<text x="555.6" y="492.3" font-size="6.4" fill="#2a2a2a" stroke="#2a2a2a" stroke-width="0.1">25</text>
<line x1="549.5" y1="511.6" x2="551.5" y2="511.6" stroke="#c4c4c4" stroke-width="0.8"/>
<text x="555.6" y="513.9" font-size="6.4" fill="#2a2a2a" stroke="#2a2a2a" stroke-width="0.1">20</text>
<line x1="549.5" y1="533.2" x2="551.5" y2="533.2" stroke="#c4c4c4" stroke-width="0.8"/>
<text x="555.6" y="535.5" font-size="6.4" fill="#2a2a2a" stroke="#2a2a2a" stroke-width="0.1">15</text>
<line x1="549.5" y1="554.8" x2="551.5" y2="554.8" stroke="#c4c4c4" stroke-width="0.8"/>
<text x="555.6" y="557.1" font-size="6.4" fill="#2a2a2a" stroke="#2a2a2a" stroke-width="0.1">10</text>
<line x1="549.5" y1="576.4" x2="551.5" y2="576.4" stroke="#c4c4c4" stroke-width="0.8"/>
<text x="555.6" y="578.7" font-size="6.4" fill="#2a2a2a" stroke="#2a2a2a" stroke-width="0.1">5</text>
<line x1="549.5" y1="598" x2="551.5" y2="598" stroke="#c4c4c4" stroke-width="0.8"/>
<text x="555.6" y="600.3" font-size="6.4" fill="#2a2a2a" stroke="#2a2a2a" stroke-width="0.1">0</text>
<line x1="328.7" y1="598" x2="328.7" y2="600" stroke="#c4c4c4" stroke-width="0.8"/>
<text transform="translate(332.1,602.5) rotate(-90)" text-anchor="end" font-size="6.4" fill="#444" stroke="#444" stroke-width="0.1">1.10.</text>
<line x1="345.5" y1="598" x2="345.5" y2="600" stroke="#c4c4c4" stroke-width="0.8"/>
<text transform="translate(348.9,602.5) rotate(-90)" text-anchor="end" font-size="6.4" fill="#444" stroke="#444" stroke-width="0.1">8.10.</text>
<line x1="362.3" y1="598" x2="362.3" y2="600" stroke="#c4c4c4" stroke-width="0.8"/>
<text transform="translate(365.7,602.5) rotate(-90)" text-anchor="end" font-size="6.4" fill="#444" stroke="#444" stroke-width="0.1">15.10.</text>
<line x1="379.1" y1="598" x2="379.1" y2="600" stroke="#c4c4c4" stroke-width="0.8"/>
<text transform="translate(382.5,602.5) rotate(-90)" text-anchor="end" font-size="6.4" fill="#444" stroke="#444" stroke-width="0.1">22.10.</text>
<line x1="395.9" y1="598" x2="395.9" y2="600" stroke="#c4c4c4" stroke-width="0.8"/>
<text transform="translate(399.3,602.5) rotate(-90)" text-anchor="end" font-size="6.4" fill="#444" stroke="#444" stroke-width="0.1">29.10.</text>
<line x1="412.7" y1="598" x2="412.7" y2="600" stroke="#c4c4c4" stroke-width="0.8"/>
<text transform="translate(416.1,602.5) rotate(-90)" text-anchor="end" font-size="6.4" fill="#444" stroke="#444" stroke-width="0.1">5.11.</text>
<line x1="429.5" y1="598" x2="429.5" y2="600" stroke="#c4c4c4" stroke-width="0.8"/>
<text transform="translate(432.9,602.5) rotate(-90)" text-anchor="end" font-size="6.4" fill="#444" stroke="#444" stroke-width="0.1">12.11.</text>
<line x1="446.3" y1="598" x2="446.3" y2="600" stroke="#c4c4c4" stroke-width="0.8"/>
<text transform="translate(449.7,602.5) rotate(-90)" text-anchor="end" font-size="6.4" fill="#444" stroke="#444" stroke-width="0.1">19.11.</text>
<line x1="463.1" y1="598" x2="463.1" y2="600" stroke="#c4c4c4" stroke-width="0.8"/>
<text transform="translate(466.5,602.5) rotate(-90)" text-anchor="end" font-size="6.4" fill="#444" stroke="#444" stroke-width="0.1">26.11.</text>
<line x1="479.9" y1="598" x2="479.9" y2="600" stroke="#c4c4c4" stroke-width="0.8"/>
<text transform="translate(483.3,602.5) rotate(-90)" text-anchor="end" font-size="6.4" fill="#444" stroke="#444" stroke-width="0.1">3.12.</text>
<line x1="496.7" y1="598" x2="496.7" y2="600" stroke="#c4c4c4" stroke-width="0.8"/>
<text transform="translate(500.1,602.5) rotate(-90)" text-anchor="end" font-size="6.4" fill="#444" stroke="#444" stroke-width="0.1">10.12.</text>
<line x1="513.5" y1="598" x2="513.5" y2="600" stroke="#c4c4c4" stroke-width="0.8"/>
<text transform="translate(516.9,602.5) rotate(-90)" text-anchor="end" font-size="6.4" fill="#444" stroke="#444" stroke-width="0.1">17.12.</text>
<line x1="530.3" y1="598" x2="530.3" y2="600" stroke="#c4c4c4" stroke-width="0.8"/>
<text transform="translate(533.7,602.5) rotate(-90)" text-anchor="end" font-size="6.4" fill="#444" stroke="#444" stroke-width="0.1">24.12.</text>
<line x1="547.1" y1="598" x2="547.1" y2="600" stroke="#c4c4c4" stroke-width="0.8"/>
<text transform="translate(550.5,602.5) rotate(-90)" text-anchor="end" font-size="6.4" fill="#444" stroke="#444" stroke-width="0.1">31.12.</text>
<line x1="327" y1="522.4" x2="549.5" y2="522.4" stroke="#ffd966" stroke-width="1.7"/>
<rect x="331.68" y="594.98" width="1.25" height="3.02" fill="#4f81bd"/>
<rect x="346.07" y="582.2" width="1.25" height="15.8" fill="#4f81bd"/>
<rect x="348.47" y="592.32" width="1.25" height="5.68" fill="#4f81bd"/>
<rect x="355.68" y="595.24" width="1.25" height="2.76" fill="#4f81bd"/>
<rect x="362.88" y="594.58" width="1.25" height="3.42" fill="#4f81bd"/>
<rect x="365.27" y="596.98" width="1.25" height="1.02" fill="#4f81bd"/>
<rect x="374.88" y="594.58" width="1.25" height="3.42" fill="#4f81bd"/>
<rect x="377.27" y="596.58" width="1.25" height="1.42" fill="#4f81bd"/>
<rect x="384.47" y="593.91" width="1.25" height="4.09" fill="#4f81bd"/>
<rect x="386.88" y="593.91" width="1.25" height="4.09" fill="#4f81bd"/>
<rect x="389.27" y="583" width="1.25" height="15" fill="#4f81bd"/>
<rect x="391.67" y="595.24" width="1.25" height="2.76" fill="#4f81bd"/>
<rect x="394.07" y="587.66" width="1.25" height="10.34" fill="#4f81bd"/>
<rect x="396.47" y="583.26" width="1.25" height="14.74" fill="#4f81bd"/>
<rect x="408.47" y="596.84" width="1.25" height="1.16" fill="#4f81bd"/>
<rect x="410.88" y="596.84" width="1.25" height="1.16" fill="#4f81bd"/>
<rect x="415.67" y="595.24" width="1.25" height="2.76" fill="#4f81bd"/>
<rect x="427.67" y="596.58" width="1.25" height="1.42" fill="#4f81bd"/>
<rect x="430.07" y="596.58" width="1.25" height="1.42" fill="#4f81bd"/>
<rect x="432.47" y="596.58" width="1.25" height="1.42" fill="#4f81bd"/>
<rect x="434.88" y="595.64" width="1.25" height="2.36" fill="#4f81bd"/>
<rect x="439.67" y="594.98" width="1.25" height="3.02" fill="#4f81bd"/>
<rect x="442.07" y="568.62" width="1.25" height="29.38" fill="#4f81bd"/>
<rect x="444.47" y="588.32" width="1.25" height="9.68" fill="#4f81bd"/>
<rect x="463.67" y="595.24" width="1.25" height="2.76" fill="#4f81bd"/>
<rect x="466.07" y="594.58" width="1.25" height="3.42" fill="#4f81bd"/>
<rect x="475.67" y="597.24" width="1.25" height="0.76" fill="#4f81bd"/>
<rect x="497.27" y="587.92" width="1.25" height="10.08" fill="#4f81bd"/>
<rect x="499.67" y="597.24" width="1.25" height="0.76" fill="#4f81bd"/>
<rect x="502.07" y="596.98" width="1.25" height="1.02" fill="#4f81bd"/>
<rect x="514.08" y="593.25" width="1.25" height="4.75" fill="#4f81bd"/>
<rect x="516.48" y="584.6" width="1.25" height="13.4" fill="#4f81bd"/>
<rect x="518.88" y="596.98" width="1.25" height="1.02" fill="#4f81bd"/>
<rect x="521.27" y="595.24" width="1.25" height="2.76" fill="#4f81bd"/>
<rect x="540.48" y="594.98" width="1.25" height="3.02" fill="#4f81bd"/>
<rect x="547.67" y="591.92" width="1.25" height="6.08" fill="#4f81bd"/>
<polyline points="329.9,525.02 332.3,523.69 334.7,521.03 337.1,522.9 339.5,521.03 341.9,520.63 344.3,519.7 346.7,514.91 349.1,513.04 351.5,514.91 353.9,516.64 356.3,518.37 358.7,521.03 361.1,524.63 363.5,528.62 365.9,533.01 368.3,541 370.7,539.93 373.1,541.93 375.5,537 377.9,533.01 380.3,541 382.7,536.61 385.1,534.88 387.5,527.29 389.9,519.7 392.3,525.96 394.7,527.29 397.1,529.28 399.5,532.61 401.9,557.92 404.3,562.58 406.7,558.59 409.1,551.26 411.5,542.61 413.9,534.23 416.3,536.62 418.7,541.95 421.1,565.91 423.5,539.28 425.9,539.02 428.3,552.6 430.7,530.63 433.1,529.97 435.5,531.96 437.9,535.56 440.3,537.69 442.7,535.29 445.1,537.29 447.5,540.88 449.9,568.57 452.3,569.23 454.7,559.92 457.1,544.61 459.5,539.55 461.9,547.94 464.3,539.95 466.7,537.29 469.1,571.9 471.5,591.46 473.9,573.89 476.3,553.26 478.7,559.92 481.1,549.93 483.5,540.88 485.9,545.67 488.3,541.95 490.7,539.95 493.1,544.88 495.5,553.93 497.9,535.29 500.3,523.04 502.7,537.95 505.1,542.61 507.5,556.86 509.9,555.92 512.3,539.55 514.7,538.22 517.1,537.29 519.5,562.58 521.9,565.91 524.3,555.26 526.7,569.23 529.1,570.57 531.5,589.2 533.9,587.2 536.3,573.23 538.7,588.8 541.1,590.93 543.5,590.53 545.9,577.22 548.3,578.55" fill="none" stroke="#f50d0d" stroke-width="1.0" stroke-linejoin="round"/>
<text x="417.5" y="499.9" font-size="7.7" fill="#222" textLength="54.2" lengthAdjust="spacingAndGlyphs" stroke="#222" stroke-width="0.1">2002 No basal ice</text>
<text transform="translate(309,581.5) rotate(-90)" font-size="5.9" fill="#2a2a2a" textLength="68.3" lengthAdjust="spacingAndGlyphs" stroke="#2a2a2a" stroke-width="0.1">Mean temperature (°C)</text>
<text transform="translate(568.7,519.5) rotate(90)" font-size="5.9" fill="#2a2a2a" textLength="53" lengthAdjust="spacingAndGlyphs" stroke="#2a2a2a" stroke-width="0.1">Precipitation (mm)</text>
</svg></body></html>
